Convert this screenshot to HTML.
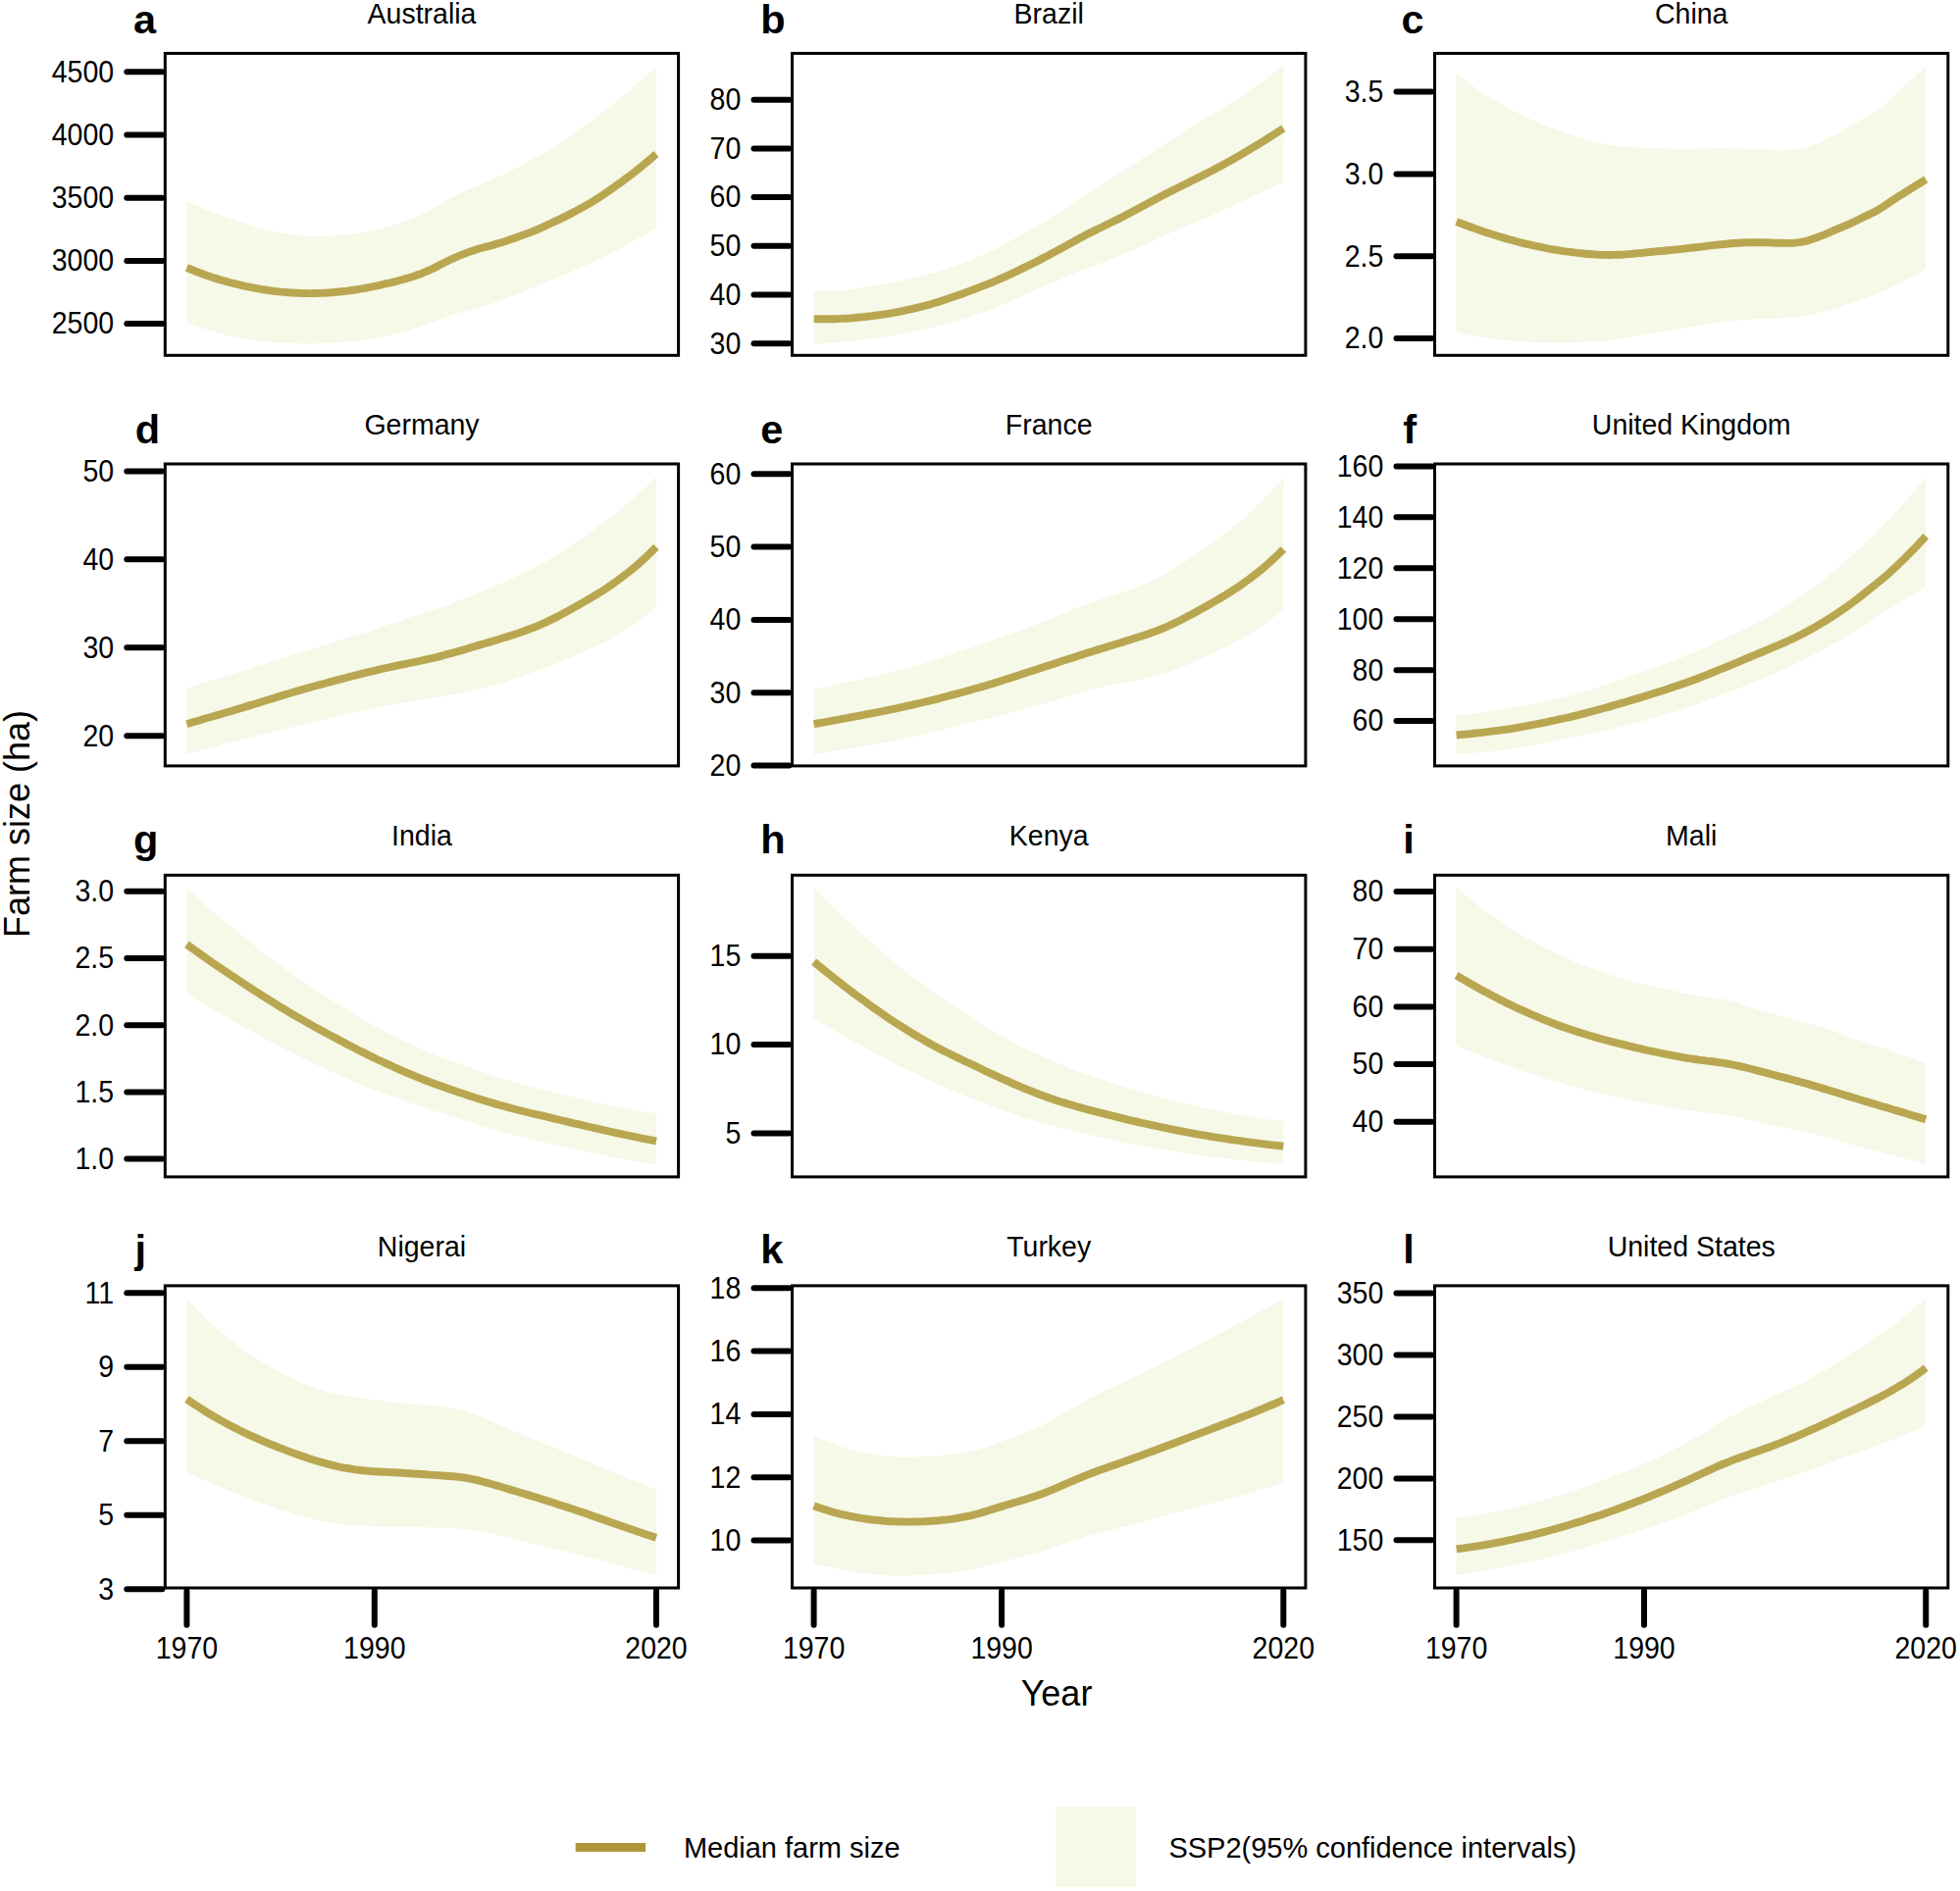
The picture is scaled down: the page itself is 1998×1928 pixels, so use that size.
<!DOCTYPE html>
<html lang="en"><head><meta charset="utf-8"><title>Farm size by country</title>
<style>html,body{margin:0;padding:0;background:#fff}svg{display:block}text{font-family:"Liberation Sans", Arial, sans-serif;fill:#000}.lg{font-size:29px}.tk{font-size:28.5px}.tt{font-size:28.5px}.lt{font-size:41.5px;font-weight:bold}.ax{font-size:36px}</style></head><body>
<svg xmlns="http://www.w3.org/2000/svg" width="1998" height="1928" viewBox="0 0 1998 1928">
<rect width="1998" height="1928" fill="#fff"/>
<g id="panel-a">
<polygon fill="#f6f8e8" points="190.4,205.3 194.4,207.1 198.4,208.9 202.4,210.6 206.4,212.3 210.3,214 214.3,215.6 218.3,217.1 222.3,218.6 226.3,220.1 230.3,221.5 234.3,222.8 238.3,224.1 242.2,225.4 246.2,226.7 250.2,228 254.2,229.3 258.2,230.6 262.2,231.8 266.2,232.9 270.2,234 274.2,234.9 278.1,235.8 282.1,236.7 286.1,237.4 290.1,238.1 294.1,238.8 298.1,239.3 302.1,239.8 306.1,240.2 310.1,240.5 314,240.7 318,240.8 322,240.8 326,240.8 330,240.7 334,240.6 338,240.5 342,240.3 345.9,240 349.9,239.7 353.9,239.3 357.9,238.9 361.9,238.4 365.9,237.9 369.9,237.3 373.9,236.6 377.9,235.8 381.8,234.9 385.8,234 389.8,232.9 393.8,231.9 397.8,230.7 401.8,229.5 405.8,228.3 409.8,226.9 413.7,225.4 417.7,223.9 421.7,222.3 425.7,220.5 429.7,218.7 433.7,216.8 437.7,214.7 441.7,212.6 445.7,210.3 449.6,208 453.6,205.6 457.6,203.3 461.6,201 465.6,198.9 469.6,196.9 473.6,195 477.6,193.3 481.5,191.6 485.5,189.9 489.5,188.2 493.5,186.5 497.5,184.7 501.5,183 505.5,181.2 509.5,179.5 513.5,177.6 517.4,175.8 521.4,173.8 525.4,171.9 529.4,169.8 533.4,167.8 537.4,165.6 541.4,163.5 545.4,161.3 549.4,159 553.3,156.6 557.3,154.3 561.3,151.8 565.3,149.3 569.3,146.8 573.3,144.2 577.3,141.6 581.3,138.9 585.2,136.1 589.2,133.3 593.2,130.5 597.2,127.6 601.2,124.6 605.2,121.7 609.2,118.7 613.2,115.6 617.2,112.6 621.1,109.5 625.1,106.3 629.1,103.1 633.1,99.8 637.1,96.4 641.1,93 645.1,89.6 649.1,86.1 653,82.5 657,78.8 661,75.1 665,71.4 669,67.6 669,232.2 665,234.6 661,237 657,239.4 653,241.7 649.1,243.9 645.1,246.2 641.1,248.4 637.1,250.5 633.1,252.6 629.1,254.7 625.1,256.8 621.1,258.9 617.2,260.9 613.2,262.9 609.2,264.8 605.2,266.7 601.2,268.6 597.2,270.4 593.2,272.1 589.2,273.9 585.2,275.6 581.3,277.4 577.3,279.1 573.3,280.8 569.3,282.5 565.3,284.2 561.3,285.9 557.3,287.6 553.3,289.3 549.4,290.9 545.4,292.6 541.4,294.2 537.4,295.8 533.4,297.4 529.4,299 525.4,300.6 521.4,302.1 517.4,303.7 513.5,305.2 509.5,306.6 505.5,308 501.5,309.3 497.5,310.7 493.5,312 489.5,313.3 485.5,314.5 481.5,315.5 477.6,316.5 473.6,317.4 469.6,318.5 465.6,319.6 461.6,320.9 457.6,322.3 453.6,323.8 449.6,325.2 445.7,326.7 441.7,328.2 437.7,329.6 433.7,331 429.7,332.4 425.7,333.8 421.7,335.1 417.7,336.4 413.7,337.6 409.8,338.8 405.8,339.9 401.8,340.8 397.8,341.8 393.8,342.6 389.8,343.4 385.8,344.2 381.8,344.9 377.9,345.5 373.9,346.1 369.9,346.6 365.9,347.1 361.9,347.6 357.9,348 353.9,348.4 349.9,348.8 345.9,349.1 342,349.4 338,349.6 334,349.8 330,350 326,350.1 322,350.1 318,350.2 314,350.2 310.1,350.2 306.1,350.1 302.1,350.1 298.1,350 294.1,349.9 290.1,349.7 286.1,349.5 282.1,349.3 278.1,349 274.2,348.6 270.2,348.2 266.2,347.8 262.2,347.4 258.2,346.8 254.2,346.3 250.2,345.7 246.2,345 242.2,344.2 238.3,343.3 234.3,342.4 230.3,341.4 226.3,340.3 222.3,339.2 218.3,338.1 214.3,336.9 210.3,335.7 206.4,334.4 202.4,333.1 198.4,331.7 194.4,330.2 190.4,328.7"/>
<polyline fill="none" stroke="#b9a650" stroke-width="7.9" stroke-linejoin="round" points="190.4,272.8 194.4,274.5 198.4,276.2 202.4,277.7 206.4,279.2 210.3,280.7 214.3,282.1 218.3,283.4 222.3,284.6 226.3,285.8 230.3,286.9 234.3,288 238.3,289 242.2,289.9 246.2,290.9 250.2,291.8 254.2,292.6 258.2,293.4 262.2,294.2 266.2,294.9 270.2,295.5 274.2,296.1 278.1,296.7 282.1,297.1 286.1,297.6 290.1,297.9 294.1,298.3 298.1,298.5 302.1,298.7 306.1,298.9 310.1,299 314,299.1 318,299.1 322,299 326,298.9 330,298.7 334,298.5 338,298.2 342,297.8 345.9,297.5 349.9,297 353.9,296.6 357.9,296 361.9,295.5 365.9,294.8 369.9,294.2 373.9,293.5 377.9,292.7 381.8,291.9 385.8,291.1 389.8,290.2 393.8,289.2 397.8,288.3 401.8,287.3 405.8,286.3 409.8,285.2 413.7,284.1 417.7,283 421.7,281.7 425.7,280.3 429.7,278.9 433.7,277.2 437.7,275.5 441.7,273.6 445.7,271.6 449.6,269.5 453.6,267.5 457.6,265.5 461.6,263.6 465.6,261.8 469.6,260.2 473.6,258.6 477.6,257.1 481.5,255.7 485.5,254.4 489.5,253.3 493.5,252.2 497.5,251.2 501.5,250.1 505.5,248.9 509.5,247.7 513.5,246.5 517.4,245.2 521.4,243.8 525.4,242.4 529.4,241 533.4,239.6 537.4,238.1 541.4,236.6 545.4,235 549.4,233.3 553.3,231.5 557.3,229.7 561.3,227.8 565.3,225.9 569.3,224.1 573.3,222.1 577.3,220.1 581.3,218.1 585.2,216.1 589.2,213.9 593.2,211.8 597.2,209.6 601.2,207.3 605.2,204.9 609.2,202.4 613.2,199.7 617.2,197 621.1,194.2 625.1,191.4 629.1,188.6 633.1,185.7 637.1,182.8 641.1,179.8 645.1,176.8 649.1,173.7 653,170.5 657,167.2 661,163.9 665,160.5 669,157.1"/>
<rect x="168.3" y="54.4" width="523.3" height="307.9" fill="none" stroke="#000" stroke-width="3.0"/>
<line x1="129.3" y1="73.3" x2="165.3" y2="73.3" stroke="#000" stroke-width="6.0" stroke-linecap="round"/>
<text class="tk" text-anchor="end" transform="translate(116.1 83.6) scale(1 1.08)">4500</text>
<line x1="129.3" y1="137.5" x2="165.3" y2="137.5" stroke="#000" stroke-width="6.0" stroke-linecap="round"/>
<text class="tk" text-anchor="end" transform="translate(116.1 147.8) scale(1 1.08)">4000</text>
<line x1="129.3" y1="201.7" x2="165.3" y2="201.7" stroke="#000" stroke-width="6.0" stroke-linecap="round"/>
<text class="tk" text-anchor="end" transform="translate(116.1 212) scale(1 1.08)">3500</text>
<line x1="129.3" y1="265.9" x2="165.3" y2="265.9" stroke="#000" stroke-width="6.0" stroke-linecap="round"/>
<text class="tk" text-anchor="end" transform="translate(116.1 276.2) scale(1 1.08)">3000</text>
<line x1="129.3" y1="330.1" x2="165.3" y2="330.1" stroke="#000" stroke-width="6.0" stroke-linecap="round"/>
<text class="tk" text-anchor="end" transform="translate(116.1 340.4) scale(1 1.08)">2500</text>
<text class="tt" text-anchor="middle" transform="translate(430 24) scale(1 1.05)">Australia</text>
<text class="lt" transform="translate(136 33.5)">a</text>
</g>
<g id="panel-b">
<polygon fill="#f6f8e8" points="829.6,297.1 833.6,297.1 837.6,297.1 841.6,297.1 845.6,296.9 849.5,296.7 853.5,296.4 857.5,296.1 861.5,295.7 865.5,295.2 869.5,294.7 873.5,294.1 877.5,293.5 881.5,292.9 885.4,292.2 889.4,291.6 893.4,290.9 897.4,290.2 901.4,289.5 905.4,288.8 909.4,288 913.4,287.2 917.4,286.4 921.4,285.6 925.3,284.7 929.3,283.8 933.3,282.9 937.3,282 941.3,281 945.3,280.1 949.3,279 953.3,277.9 957.3,276.7 961.2,275.4 965.2,274.1 969.2,272.7 973.2,271.3 977.2,269.9 981.2,268.4 985.2,266.9 989.2,265.4 993.2,263.8 997.1,262.1 1001.1,260.4 1005.1,258.7 1009.1,256.9 1013.1,255 1017.1,252.9 1021.1,250.8 1025.1,248.5 1029.1,246.3 1033,244.1 1037,241.8 1041,239.6 1045,237.3 1049,235 1053,232.7 1057,230.4 1061,228 1065,225.7 1069,223.3 1072.9,221 1076.9,218.5 1080.9,216 1084.9,213.4 1088.9,210.8 1092.9,208.2 1096.9,205.5 1100.9,202.8 1104.9,200.2 1108.8,197.6 1112.8,195 1116.8,192.4 1120.8,189.9 1124.8,187.4 1128.8,184.8 1132.8,182.3 1136.8,179.7 1140.8,177.2 1144.7,174.6 1148.7,172 1152.7,169.4 1156.7,166.8 1160.7,164.2 1164.7,161.6 1168.7,159 1172.7,156.4 1176.7,153.8 1180.6,151.2 1184.6,148.6 1188.6,145.9 1192.6,143.4 1196.6,140.8 1200.6,138.3 1204.6,135.8 1208.6,133.4 1212.6,130.9 1216.5,128.5 1220.5,126 1224.5,123.6 1228.5,121.2 1232.5,118.7 1236.5,116.3 1240.5,113.9 1244.5,111.5 1248.5,109 1252.5,106.6 1256.4,104.1 1260.4,101.5 1264.4,98.9 1268.4,96.2 1272.4,93.4 1276.4,90.7 1280.4,87.9 1284.4,85 1288.4,82.1 1292.3,79.2 1296.3,76.2 1300.3,73.1 1304.3,69.9 1308.3,66.7 1308.3,185.9 1304.3,187.7 1300.3,189.5 1296.3,191.3 1292.3,193.1 1288.4,194.9 1284.4,196.7 1280.4,198.6 1276.4,200.5 1272.4,202.3 1268.4,204.2 1264.4,206.1 1260.4,208 1256.4,209.8 1252.5,211.6 1248.5,213.4 1244.5,215.2 1240.5,216.9 1236.5,218.7 1232.5,220.4 1228.5,222.1 1224.5,223.9 1220.5,225.6 1216.5,227.3 1212.6,229 1208.6,230.8 1204.6,232.5 1200.6,234.2 1196.6,236 1192.6,237.7 1188.6,239.5 1184.6,241.3 1180.6,243 1176.7,244.9 1172.7,246.7 1168.7,248.5 1164.7,250.4 1160.7,252.2 1156.7,254 1152.7,255.8 1148.7,257.6 1144.7,259.3 1140.8,261.1 1136.8,262.7 1132.8,264.3 1128.8,265.9 1124.8,267.4 1120.8,268.8 1116.8,270.3 1112.8,271.7 1108.8,273.2 1104.9,274.8 1100.9,276.3 1096.9,278 1092.9,279.6 1088.9,281.3 1084.9,283 1080.9,284.7 1076.9,286.4 1072.9,288.1 1069,289.8 1065,291.6 1061,293.3 1057,295.1 1053,296.9 1049,298.7 1045,300.5 1041,302.3 1037,304.1 1033,305.9 1029.1,307.6 1025.1,309.4 1021.1,311.1 1017.1,312.8 1013.1,314.5 1009.1,316 1005.1,317.5 1001.1,318.9 997.1,320.3 993.2,321.6 989.2,322.9 985.2,324.1 981.2,325.3 977.2,326.5 973.2,327.6 969.2,328.7 965.2,329.8 961.2,330.9 957.3,332 953.3,333 949.3,334 945.3,335 941.3,335.9 937.3,336.8 933.3,337.6 929.3,338.4 925.3,339.2 921.4,340 917.4,340.8 913.4,341.5 909.4,342.2 905.4,342.9 901.4,343.5 897.4,344.1 893.4,344.7 889.4,345.3 885.4,345.8 881.5,346.3 877.5,346.8 873.5,347.3 869.5,347.7 865.5,348.1 861.5,348.5 857.5,348.8 853.5,349.1 849.5,349.4 845.6,349.7 841.6,349.9 837.6,350.1 833.6,350.3 829.6,350.4"/>
<polyline fill="none" stroke="#b9a650" stroke-width="7.9" stroke-linejoin="round" points="829.6,325.1 833.6,325.2 837.6,325.3 841.6,325.3 845.6,325.3 849.5,325.2 853.5,325.1 857.5,324.9 861.5,324.7 865.5,324.5 869.5,324.2 873.5,323.8 877.5,323.4 881.5,323 885.4,322.5 889.4,322.1 893.4,321.5 897.4,321 901.4,320.4 905.4,319.8 909.4,319.1 913.4,318.4 917.4,317.6 921.4,316.8 925.3,315.9 929.3,315.1 933.3,314.1 937.3,313.2 941.3,312.2 945.3,311.1 949.3,310 953.3,308.8 957.3,307.6 961.2,306.2 965.2,304.9 969.2,303.5 973.2,302.2 977.2,300.8 981.2,299.4 985.2,297.9 989.2,296.4 993.2,295 997.1,293.4 1001.1,291.9 1005.1,290.3 1009.1,288.8 1013.1,287.1 1017.1,285.4 1021.1,283.6 1025.1,281.8 1029.1,280 1033,278.1 1037,276.3 1041,274.4 1045,272.4 1049,270.5 1053,268.5 1057,266.4 1061,264.4 1065,262.3 1069,260.2 1072.9,258.1 1076.9,256 1080.9,253.8 1084.9,251.6 1088.9,249.4 1092.9,247.2 1096.9,245 1100.9,242.8 1104.9,240.7 1108.8,238.6 1112.8,236.6 1116.8,234.6 1120.8,232.7 1124.8,230.7 1128.8,228.8 1132.8,226.8 1136.8,224.9 1140.8,222.9 1144.7,220.9 1148.7,218.8 1152.7,216.7 1156.7,214.6 1160.7,212.5 1164.7,210.3 1168.7,208.1 1172.7,206 1176.7,203.8 1180.6,201.7 1184.6,199.6 1188.6,197.5 1192.6,195.5 1196.6,193.5 1200.6,191.5 1204.6,189.5 1208.6,187.5 1212.6,185.6 1216.5,183.6 1220.5,181.6 1224.5,179.6 1228.5,177.6 1232.5,175.5 1236.5,173.4 1240.5,171.3 1244.5,169.2 1248.5,167.1 1252.5,164.9 1256.4,162.7 1260.4,160.4 1264.4,158.1 1268.4,155.7 1272.4,153.3 1276.4,150.9 1280.4,148.5 1284.4,146.1 1288.4,143.6 1292.3,141.1 1296.3,138.6 1300.3,136 1304.3,133.5 1308.3,130.9"/>
<rect x="807.5" y="54.4" width="523.4" height="307.9" fill="none" stroke="#000" stroke-width="3.0"/>
<line x1="768.5" y1="101.8" x2="804.5" y2="101.8" stroke="#000" stroke-width="6.0" stroke-linecap="round"/>
<text class="tk" text-anchor="end" transform="translate(755.3 112) scale(1 1.08)">80</text>
<line x1="768.5" y1="151.4" x2="804.5" y2="151.4" stroke="#000" stroke-width="6.0" stroke-linecap="round"/>
<text class="tk" text-anchor="end" transform="translate(755.3 161.7) scale(1 1.08)">70</text>
<line x1="768.5" y1="201.1" x2="804.5" y2="201.1" stroke="#000" stroke-width="6.0" stroke-linecap="round"/>
<text class="tk" text-anchor="end" transform="translate(755.3 211.4) scale(1 1.08)">60</text>
<line x1="768.5" y1="250.8" x2="804.5" y2="250.8" stroke="#000" stroke-width="6.0" stroke-linecap="round"/>
<text class="tk" text-anchor="end" transform="translate(755.3 261.1) scale(1 1.08)">50</text>
<line x1="768.5" y1="300.5" x2="804.5" y2="300.5" stroke="#000" stroke-width="6.0" stroke-linecap="round"/>
<text class="tk" text-anchor="end" transform="translate(755.3 310.8) scale(1 1.08)">40</text>
<line x1="768.5" y1="350.2" x2="804.5" y2="350.2" stroke="#000" stroke-width="6.0" stroke-linecap="round"/>
<text class="tk" text-anchor="end" transform="translate(755.3 360.5) scale(1 1.08)">30</text>
<text class="tt" text-anchor="middle" transform="translate(1069.2 24) scale(1 1.05)">Brazil</text>
<text class="lt" transform="translate(775.2 33.5)">b</text>
</g>
<g id="panel-c">
<polygon fill="#f6f8e8" points="1484.6,75.3 1488.6,78.4 1492.6,81.4 1496.6,84.4 1500.6,87.2 1504.5,90 1508.5,92.7 1512.5,95.4 1516.5,97.9 1520.5,100.4 1524.5,102.8 1528.5,105.2 1532.5,107.4 1536.4,109.6 1540.4,111.8 1544.4,113.9 1548.4,115.9 1552.4,117.9 1556.4,119.8 1560.4,121.6 1564.4,123.4 1568.4,125.2 1572.3,126.8 1576.3,128.5 1580.3,130.1 1584.3,131.6 1588.3,133.1 1592.3,134.6 1596.3,136 1600.3,137.3 1604.2,138.6 1608.2,139.9 1612.2,141.1 1616.2,142.2 1620.2,143.3 1624.2,144.3 1628.2,145.3 1632.2,146.1 1636.2,146.9 1640.1,147.7 1644.1,148.3 1648.1,148.8 1652.1,149.3 1656.1,149.7 1660.1,150 1664.1,150.2 1668.1,150.4 1672.1,150.6 1676,150.8 1680,150.9 1684,151.1 1688,151.2 1692,151.4 1696,151.5 1700,151.6 1704,151.7 1707.9,151.8 1711.9,151.8 1715.9,151.9 1719.9,151.8 1723.9,151.8 1727.9,151.7 1731.9,151.7 1735.9,151.6 1739.9,151.5 1743.8,151.4 1747.8,151.4 1751.8,151.3 1755.8,151.3 1759.8,151.3 1763.8,151.4 1767.8,151.5 1771.8,151.6 1775.7,151.7 1779.7,151.9 1783.7,152 1787.7,152.2 1791.7,152.4 1795.7,152.6 1799.7,152.8 1803.7,153 1807.7,153.1 1811.6,153.2 1815.6,153.3 1819.6,153.2 1823.6,153.1 1827.6,152.8 1831.6,152.3 1835.6,151.6 1839.6,150.6 1843.5,149.4 1847.5,148 1851.5,146.4 1855.5,144.6 1859.5,142.8 1863.5,140.8 1867.5,138.7 1871.5,136.6 1875.5,134.5 1879.4,132.3 1883.4,130.1 1887.4,127.9 1891.4,125.7 1895.4,123.5 1899.4,121.3 1903.4,119.2 1907.4,117.1 1911.4,114.8 1915.3,112 1919.3,108.6 1923.3,104.9 1927.3,101 1931.3,97.2 1935.3,93.4 1939.3,89.6 1943.3,85.9 1947.2,82.2 1951.2,78.5 1955.2,74.7 1959.2,70.9 1963.2,67 1963.2,274.6 1959.2,276.9 1955.2,279 1951.2,281.1 1947.2,283.1 1943.3,285 1939.3,287 1935.3,289 1931.3,291 1927.3,293 1923.3,295.1 1919.3,297.1 1915.3,299 1911.4,300.6 1907.4,302 1903.4,303.3 1899.4,304.7 1895.4,306.1 1891.4,307.5 1887.4,309 1883.4,310.4 1879.4,311.9 1875.5,313.2 1871.5,314.4 1867.5,315.5 1863.5,316.5 1859.5,317.5 1855.5,318.4 1851.5,319.3 1847.5,320.3 1843.5,321.2 1839.6,322 1835.6,322.7 1831.6,323.3 1827.6,323.8 1823.6,324.1 1819.6,324.3 1815.6,324.5 1811.6,324.7 1807.7,324.8 1803.7,324.9 1799.7,325 1795.7,325.1 1791.7,325.2 1787.7,325.3 1783.7,325.5 1779.7,325.8 1775.7,326.1 1771.8,326.4 1767.8,326.8 1763.8,327.2 1759.8,327.7 1755.8,328.3 1751.8,328.8 1747.8,329.5 1743.8,330.1 1739.9,330.8 1735.9,331.5 1731.9,332.2 1727.9,332.9 1723.9,333.6 1719.9,334.3 1715.9,334.9 1711.9,335.6 1707.9,336.1 1704,336.7 1700,337.2 1696,337.8 1692,338.3 1688,338.9 1684,339.5 1680,340.1 1676,340.8 1672.1,341.5 1668.1,342.2 1664.1,343 1660.1,343.7 1656.1,344.4 1652.1,345.1 1648.1,345.8 1644.1,346.4 1640.1,346.9 1636.2,347.3 1632.2,347.7 1628.2,348 1624.2,348.3 1620.2,348.6 1616.2,348.8 1612.2,349 1608.2,349.1 1604.2,349.3 1600.3,349.4 1596.3,349.4 1592.3,349.5 1588.3,349.5 1584.3,349.5 1580.3,349.4 1576.3,349.4 1572.3,349.3 1568.4,349.1 1564.4,349 1560.4,348.8 1556.4,348.6 1552.4,348.4 1548.4,348.1 1544.4,347.8 1540.4,347.5 1536.4,347.1 1532.5,346.7 1528.5,346.2 1524.5,345.7 1520.5,345.2 1516.5,344.6 1512.5,344 1508.5,343.3 1504.5,342.6 1500.6,341.9 1496.6,341.1 1492.6,340.2 1488.6,339.3 1484.6,338.4"/>
<polyline fill="none" stroke="#b9a650" stroke-width="7.9" stroke-linejoin="round" points="1484.6,226 1488.6,227.5 1492.6,229 1496.6,230.5 1500.6,232 1504.5,233.4 1508.5,234.8 1512.5,236.2 1516.5,237.5 1520.5,238.8 1524.5,240 1528.5,241.2 1532.5,242.4 1536.4,243.6 1540.4,244.7 1544.4,245.7 1548.4,246.8 1552.4,247.8 1556.4,248.8 1560.4,249.7 1564.4,250.6 1568.4,251.4 1572.3,252.2 1576.3,253 1580.3,253.8 1584.3,254.5 1588.3,255.1 1592.3,255.8 1596.3,256.4 1600.3,256.9 1604.2,257.4 1608.2,257.9 1612.2,258.3 1616.2,258.7 1620.2,259 1624.2,259.3 1628.2,259.6 1632.2,259.8 1636.2,259.9 1640.1,260 1644.1,259.9 1648.1,259.8 1652.1,259.7 1656.1,259.4 1660.1,259.1 1664.1,258.8 1668.1,258.4 1672.1,258 1676,257.6 1680,257.2 1684,256.8 1688,256.4 1692,256 1696,255.7 1700,255.3 1704,254.9 1707.9,254.5 1711.9,254.1 1715.9,253.6 1719.9,253.2 1723.9,252.7 1727.9,252.3 1731.9,251.8 1735.9,251.3 1739.9,250.8 1743.8,250.4 1747.8,249.9 1751.8,249.5 1755.8,249.1 1759.8,248.7 1763.8,248.3 1767.8,248 1771.8,247.7 1775.7,247.5 1779.7,247.3 1783.7,247.2 1787.7,247.2 1791.7,247.2 1795.7,247.2 1799.7,247.3 1803.7,247.4 1807.7,247.6 1811.6,247.7 1815.6,247.8 1819.6,247.9 1823.6,247.9 1827.6,247.7 1831.6,247.4 1835.6,246.9 1839.6,246.1 1843.5,245.1 1847.5,243.8 1851.5,242.4 1855.5,240.9 1859.5,239.3 1863.5,237.6 1867.5,235.9 1871.5,234.2 1875.5,232.5 1879.4,230.8 1883.4,229.2 1887.4,227.4 1891.4,225.5 1895.4,223.5 1899.4,221.5 1903.4,219.6 1907.4,217.7 1911.4,215.7 1915.3,213.5 1919.3,211 1923.3,208.4 1927.3,205.6 1931.3,202.9 1935.3,200.3 1939.3,197.8 1943.3,195.3 1947.2,192.8 1951.2,190.4 1955.2,187.9 1959.2,185.5 1963.2,182.9"/>
<rect x="1462.5" y="54.4" width="523.3" height="307.9" fill="none" stroke="#000" stroke-width="3.0"/>
<line x1="1423.5" y1="93.5" x2="1459.5" y2="93.5" stroke="#000" stroke-width="6.0" stroke-linecap="round"/>
<text class="tk" text-anchor="end" transform="translate(1410.3 103.8) scale(1 1.08)">3.5</text>
<line x1="1423.5" y1="177.4" x2="1459.5" y2="177.4" stroke="#000" stroke-width="6.0" stroke-linecap="round"/>
<text class="tk" text-anchor="end" transform="translate(1410.3 187.7) scale(1 1.08)">3.0</text>
<line x1="1423.5" y1="261.3" x2="1459.5" y2="261.3" stroke="#000" stroke-width="6.0" stroke-linecap="round"/>
<text class="tk" text-anchor="end" transform="translate(1410.3 271.6) scale(1 1.08)">2.5</text>
<line x1="1423.5" y1="345.1" x2="1459.5" y2="345.1" stroke="#000" stroke-width="6.0" stroke-linecap="round"/>
<text class="tk" text-anchor="end" transform="translate(1410.3 355.4) scale(1 1.08)">2.0</text>
<text class="tt" text-anchor="middle" transform="translate(1724.2 24) scale(1 1.05)">China</text>
<text class="lt" transform="translate(1428.4 33.5)">c</text>
</g>
<g id="panel-d">
<polygon fill="#f6f8e8" points="190.4,701.8 194.4,700.6 198.4,699.3 202.4,698.1 206.4,696.8 210.3,695.5 214.3,694.3 218.3,693 222.3,691.8 226.3,690.5 230.3,689.2 234.3,688 238.3,686.7 242.2,685.4 246.2,684.2 250.2,682.9 254.2,681.7 258.2,680.4 262.2,679.1 266.2,677.9 270.2,676.6 274.2,675.4 278.1,674.1 282.1,672.9 286.1,671.6 290.1,670.4 294.1,669.1 298.1,667.8 302.1,666.6 306.1,665.4 310.1,664.1 314,662.9 318,661.6 322,660.4 326,659.1 330,657.9 334,656.7 338,655.4 342,654.2 345.9,653 349.9,651.8 353.9,650.5 357.9,649.3 361.9,648.1 365.9,646.9 369.9,645.7 373.9,644.4 377.9,643.1 381.8,641.7 385.8,640.3 389.8,638.9 393.8,637.6 397.8,636.2 401.8,634.9 405.8,633.5 409.8,632.2 413.7,630.8 417.7,629.5 421.7,628.1 425.7,626.8 429.7,625.5 433.7,624.2 437.7,623 441.7,621.8 445.7,620.5 449.6,619.3 453.6,617.9 457.6,616.5 461.6,615.1 465.6,613.6 469.6,612 473.6,610.5 477.6,608.8 481.5,607.2 485.5,605.5 489.5,603.8 493.5,602.1 497.5,600.3 501.5,598.6 505.5,596.9 509.5,595.2 513.5,593.4 517.4,591.7 521.4,590 525.4,588.3 529.4,586.5 533.4,584.6 537.4,582.7 541.4,580.7 545.4,578.7 549.4,576.5 553.3,574.3 557.3,571.9 561.3,569.5 565.3,567 569.3,564.5 573.3,561.9 577.3,559.3 581.3,556.6 585.2,553.9 589.2,551.2 593.2,548.4 597.2,545.7 601.2,542.9 605.2,540.1 609.2,537.2 613.2,534.3 617.2,531.3 621.1,528.3 625.1,525.2 629.1,522.1 633.1,518.8 637.1,515.5 641.1,512.2 645.1,508.8 649.1,505.3 653,501.7 657,498 661,494.2 665,490.3 669,486.4 669,619.1 665,622.3 661,625.5 657,628.6 653,631.5 649.1,634.4 645.1,637.2 641.1,639.8 637.1,642.3 633.1,644.8 629.1,647.3 625.1,649.8 621.1,652.1 617.2,654.3 613.2,656.3 609.2,658.2 605.2,660 601.2,661.8 597.2,663.6 593.2,665.4 589.2,667.1 585.2,668.8 581.3,670.5 577.3,672.2 573.3,673.8 569.3,675.5 565.3,677.1 561.3,678.6 557.3,680.2 553.3,681.7 549.4,683.2 545.4,684.7 541.4,686.2 537.4,687.6 533.4,689 529.4,690.4 525.4,691.8 521.4,693.1 517.4,694.4 513.5,695.7 509.5,696.9 505.5,698.1 501.5,699.2 497.5,700.3 493.5,701.4 489.5,702.3 485.5,703.2 481.5,704.1 477.6,704.9 473.6,705.7 469.6,706.4 465.6,707.2 461.6,707.9 457.6,708.7 453.6,709.4 449.6,710.1 445.7,710.8 441.7,711.5 437.7,712.2 433.7,712.9 429.7,713.5 425.7,714.2 421.7,714.8 417.7,715.5 413.7,716.2 409.8,716.8 405.8,717.5 401.8,718.2 397.8,718.9 393.8,719.7 389.8,720.4 385.8,721.2 381.8,721.9 377.9,722.7 373.9,723.5 369.9,724.4 365.9,725.3 361.9,726.2 357.9,727.1 353.9,728 349.9,728.9 345.9,729.9 342,730.8 338,731.7 334,732.7 330,733.6 326,734.6 322,735.6 318,736.5 314,737.5 310.1,738.5 306.1,739.4 302.1,740.4 298.1,741.3 294.1,742.3 290.1,743.2 286.1,744.2 282.1,745.2 278.1,746.1 274.2,747.1 270.2,748.1 266.2,749.1 262.2,750 258.2,751 254.2,752 250.2,753 246.2,754 242.2,755.1 238.3,756.1 234.3,757.2 230.3,758.2 226.3,759.3 222.3,760.4 218.3,761.4 214.3,762.5 210.3,763.5 206.4,764.6 202.4,765.6 198.4,766.6 194.4,767.7 190.4,768.7"/>
<polyline fill="none" stroke="#b9a650" stroke-width="7.9" stroke-linejoin="round" points="190.4,738.1 194.4,737 198.4,735.8 202.4,734.7 206.4,733.5 210.3,732.3 214.3,731.2 218.3,730 222.3,728.9 226.3,727.7 230.3,726.5 234.3,725.4 238.3,724.2 242.2,723 246.2,721.9 250.2,720.6 254.2,719.4 258.2,718.2 262.2,717 266.2,715.7 270.2,714.5 274.2,713.3 278.1,712.1 282.1,710.8 286.1,709.6 290.1,708.4 294.1,707.2 298.1,706 302.1,704.8 306.1,703.6 310.1,702.5 314,701.4 318,700.3 322,699.2 326,698.1 330,697.1 334,696 338,694.9 342,693.9 345.9,692.8 349.9,691.8 353.9,690.7 357.9,689.7 361.9,688.7 365.9,687.6 369.9,686.6 373.9,685.6 377.9,684.7 381.8,683.8 385.8,682.8 389.8,681.9 393.8,681 397.8,680.2 401.8,679.3 405.8,678.4 409.8,677.6 413.7,676.8 417.7,676 421.7,675.2 425.7,674.4 429.7,673.5 433.7,672.6 437.7,671.7 441.7,670.8 445.7,669.8 449.6,668.8 453.6,667.7 457.6,666.7 461.6,665.6 465.6,664.5 469.6,663.4 473.6,662.2 477.6,661 481.5,659.8 485.5,658.6 489.5,657.4 493.5,656.2 497.5,655.1 501.5,653.9 505.5,652.7 509.5,651.5 513.5,650.3 517.4,649.1 521.4,647.8 525.4,646.5 529.4,645.2 533.4,643.8 537.4,642.3 541.4,640.8 545.4,639.3 549.4,637.6 553.3,635.9 557.3,634.1 561.3,632.1 565.3,630.1 569.3,628.1 573.3,625.9 577.3,623.8 581.3,621.6 585.2,619.4 589.2,617.2 593.2,614.9 597.2,612.6 601.2,610.3 605.2,607.9 609.2,605.5 613.2,603 617.2,600.5 621.1,597.8 625.1,595 629.1,592.1 633.1,589.1 637.1,586.1 641.1,583 645.1,579.8 649.1,576.5 653,573 657,569.4 661,565.6 665,561.7 669,557.7"/>
<rect x="168.3" y="473" width="523.3" height="307.9" fill="none" stroke="#000" stroke-width="3.0"/>
<line x1="129.3" y1="480.4" x2="165.3" y2="480.4" stroke="#000" stroke-width="6.0" stroke-linecap="round"/>
<text class="tk" text-anchor="end" transform="translate(116.1 490.7) scale(1 1.08)">50</text>
<line x1="129.3" y1="570.3" x2="165.3" y2="570.3" stroke="#000" stroke-width="6.0" stroke-linecap="round"/>
<text class="tk" text-anchor="end" transform="translate(116.1 580.6) scale(1 1.08)">40</text>
<line x1="129.3" y1="660.3" x2="165.3" y2="660.3" stroke="#000" stroke-width="6.0" stroke-linecap="round"/>
<text class="tk" text-anchor="end" transform="translate(116.1 670.6) scale(1 1.08)">30</text>
<line x1="129.3" y1="750.2" x2="165.3" y2="750.2" stroke="#000" stroke-width="6.0" stroke-linecap="round"/>
<text class="tk" text-anchor="end" transform="translate(116.1 760.5) scale(1 1.08)">20</text>
<text class="tt" text-anchor="middle" transform="translate(430 442.6) scale(1 1.05)">Germany</text>
<text class="lt" transform="translate(137.8 452)">d</text>
</g>
<g id="panel-e">
<polygon fill="#f6f8e8" points="829.6,702.4 833.6,701.6 837.6,700.9 841.6,700.1 845.6,699.3 849.5,698.5 853.5,697.7 857.5,696.9 861.5,696 865.5,695.2 869.5,694.4 873.5,693.5 877.5,692.7 881.5,691.8 885.4,690.9 889.4,690 893.4,689 897.4,688.1 901.4,687.1 905.4,686.1 909.4,685.1 913.4,684.1 917.4,683.1 921.4,682 925.3,680.9 929.3,679.8 933.3,678.7 937.3,677.6 941.3,676.4 945.3,675.2 949.3,674 953.3,672.7 957.3,671.4 961.2,670.1 965.2,668.7 969.2,667.4 973.2,666 977.2,664.6 981.2,663.3 985.2,661.9 989.2,660.5 993.2,659.2 997.1,657.8 1001.1,656.4 1005.1,655 1009.1,653.7 1013.1,652.3 1017.1,650.9 1021.1,649.6 1025.1,648.2 1029.1,646.9 1033,645.5 1037,644 1041,642.6 1045,641.1 1049,639.6 1053,638.1 1057,636.5 1061,635 1065,633.4 1069,631.7 1072.9,630.1 1076.9,628.4 1080.9,626.8 1084.9,625.2 1088.9,623.5 1092.9,621.9 1096.9,620.3 1100.9,618.8 1104.9,617.3 1108.8,615.8 1112.8,614.3 1116.8,612.9 1120.8,611.5 1124.8,610.1 1128.8,608.8 1132.8,607.5 1136.8,606.3 1140.8,605.1 1144.7,603.8 1148.7,602.5 1152.7,601.2 1156.7,599.7 1160.7,598.1 1164.7,596.4 1168.7,594.6 1172.7,592.7 1176.7,590.8 1180.6,588.7 1184.6,586.6 1188.6,584.4 1192.6,582.1 1196.6,579.8 1200.6,577.4 1204.6,574.9 1208.6,572.4 1212.6,569.8 1216.5,567.2 1220.5,564.5 1224.5,561.8 1228.5,559.1 1232.5,556.3 1236.5,553.4 1240.5,550.5 1244.5,547.6 1248.5,544.6 1252.5,541.5 1256.4,538.3 1260.4,535 1264.4,531.5 1268.4,527.9 1272.4,524.2 1276.4,520.5 1280.4,516.7 1284.4,512.7 1288.4,508.7 1292.3,504.6 1296.3,500.3 1300.3,496 1304.3,491.5 1308.3,486.9 1308.3,621.9 1304.3,625.1 1300.3,628.1 1296.3,631.1 1292.3,633.9 1288.4,636.7 1284.4,639.4 1280.4,642 1276.4,644.5 1272.4,647 1268.4,649.4 1264.4,651.9 1260.4,654.2 1256.4,656.4 1252.5,658.4 1248.5,660.4 1244.5,662.3 1240.5,664.2 1236.5,666 1232.5,667.9 1228.5,669.7 1224.5,671.6 1220.5,673.3 1216.5,675.1 1212.6,676.9 1208.6,678.6 1204.6,680.3 1200.6,682 1196.6,683.5 1192.6,684.9 1188.6,686.2 1184.6,687.3 1180.6,688.4 1176.7,689.4 1172.7,690.4 1168.7,691.3 1164.7,692.2 1160.7,693.1 1156.7,693.9 1152.7,694.7 1148.7,695.5 1144.7,696.2 1140.8,697 1136.8,697.7 1132.8,698.5 1128.8,699.4 1124.8,700.3 1120.8,701.3 1116.8,702.3 1112.8,703.4 1108.8,704.4 1104.9,705.5 1100.9,706.6 1096.9,707.7 1092.9,708.8 1088.9,710 1084.9,711.1 1080.9,712.3 1076.9,713.4 1072.9,714.6 1069,715.8 1065,716.9 1061,718.1 1057,719.2 1053,720.3 1049,721.4 1045,722.5 1041,723.6 1037,724.7 1033,725.7 1029.1,726.8 1025.1,727.8 1021.1,728.9 1017.1,729.9 1013.1,730.9 1009.1,731.9 1005.1,732.9 1001.1,733.8 997.1,734.8 993.2,735.8 989.2,736.8 985.2,737.8 981.2,738.8 977.2,739.8 973.2,740.8 969.2,741.8 965.2,742.8 961.2,743.8 957.3,744.8 953.3,745.8 949.3,746.8 945.3,747.7 941.3,748.6 937.3,749.5 933.3,750.4 929.3,751.2 925.3,752.1 921.4,752.9 917.4,753.8 913.4,754.6 909.4,755.4 905.4,756.2 901.4,757 897.4,757.8 893.4,758.6 889.4,759.3 885.4,760.1 881.5,760.8 877.5,761.5 873.5,762.1 869.5,762.8 865.5,763.4 861.5,764.1 857.5,764.7 853.5,765.4 849.5,766 845.6,766.7 841.6,767.3 837.6,767.9 833.6,768.6 829.6,769.2"/>
<polyline fill="none" stroke="#b9a650" stroke-width="7.9" stroke-linejoin="round" points="829.6,738.2 833.6,737.5 837.6,736.8 841.6,736.1 845.6,735.4 849.5,734.7 853.5,734 857.5,733.2 861.5,732.5 865.5,731.7 869.5,731 873.5,730.2 877.5,729.5 881.5,728.7 885.4,727.9 889.4,727.1 893.4,726.3 897.4,725.6 901.4,724.8 905.4,723.9 909.4,723.1 913.4,722.3 917.4,721.4 921.4,720.6 925.3,719.7 929.3,718.8 933.3,717.9 937.3,717 941.3,716 945.3,715.1 949.3,714.1 953.3,713.1 957.3,712.1 961.2,711 965.2,710 969.2,708.9 973.2,707.8 977.2,706.8 981.2,705.7 985.2,704.6 989.2,703.5 993.2,702.3 997.1,701.2 1001.1,700.1 1005.1,699 1009.1,697.8 1013.1,696.6 1017.1,695.4 1021.1,694.1 1025.1,692.8 1029.1,691.5 1033,690.2 1037,688.9 1041,687.6 1045,686.3 1049,685 1053,683.7 1057,682.4 1061,681.1 1065,679.8 1069,678.5 1072.9,677.2 1076.9,675.9 1080.9,674.6 1084.9,673.3 1088.9,672 1092.9,670.7 1096.9,669.4 1100.9,668.1 1104.9,666.9 1108.8,665.6 1112.8,664.4 1116.8,663.1 1120.8,661.9 1124.8,660.7 1128.8,659.4 1132.8,658.2 1136.8,657 1140.8,655.8 1144.7,654.6 1148.7,653.3 1152.7,652.1 1156.7,650.8 1160.7,649.5 1164.7,648.2 1168.7,646.9 1172.7,645.5 1176.7,644.1 1180.6,642.6 1184.6,641 1188.6,639.3 1192.6,637.5 1196.6,635.6 1200.6,633.7 1204.6,631.7 1208.6,629.6 1212.6,627.5 1216.5,625.4 1220.5,623.2 1224.5,620.9 1228.5,618.7 1232.5,616.5 1236.5,614.2 1240.5,611.9 1244.5,609.5 1248.5,607.2 1252.5,604.7 1256.4,602.2 1260.4,599.6 1264.4,596.9 1268.4,594 1272.4,591.1 1276.4,588.2 1280.4,585.1 1284.4,581.9 1288.4,578.6 1292.3,575.1 1296.3,571.5 1300.3,567.8 1304.3,564 1308.3,559.9"/>
<rect x="807.5" y="473" width="523.4" height="307.9" fill="none" stroke="#000" stroke-width="3.0"/>
<line x1="768.5" y1="483.2" x2="804.5" y2="483.2" stroke="#000" stroke-width="6.0" stroke-linecap="round"/>
<text class="tk" text-anchor="end" transform="translate(755.3 493.5) scale(1 1.08)">60</text>
<line x1="768.5" y1="557.5" x2="804.5" y2="557.5" stroke="#000" stroke-width="6.0" stroke-linecap="round"/>
<text class="tk" text-anchor="end" transform="translate(755.3 567.8) scale(1 1.08)">50</text>
<line x1="768.5" y1="631.9" x2="804.5" y2="631.9" stroke="#000" stroke-width="6.0" stroke-linecap="round"/>
<text class="tk" text-anchor="end" transform="translate(755.3 642.2) scale(1 1.08)">40</text>
<line x1="768.5" y1="706.2" x2="804.5" y2="706.2" stroke="#000" stroke-width="6.0" stroke-linecap="round"/>
<text class="tk" text-anchor="end" transform="translate(755.3 716.5) scale(1 1.08)">30</text>
<line x1="768.5" y1="780.5" x2="804.5" y2="780.5" stroke="#000" stroke-width="6.0" stroke-linecap="round"/>
<text class="tk" text-anchor="end" transform="translate(755.3 790.8) scale(1 1.08)">20</text>
<text class="tt" text-anchor="middle" transform="translate(1069.2 442.6) scale(1 1.05)">France</text>
<text class="lt" transform="translate(775.2 452)">e</text>
</g>
<g id="panel-f">
<polygon fill="#f6f8e8" points="1484.6,729.4 1488.6,729.1 1492.6,728.7 1496.6,728.3 1500.6,727.9 1504.5,727.4 1508.5,726.9 1512.5,726.4 1516.5,725.8 1520.5,725.2 1524.5,724.6 1528.5,724 1532.5,723.3 1536.4,722.6 1540.4,721.9 1544.4,721.2 1548.4,720.5 1552.4,719.7 1556.4,719 1560.4,718.2 1564.4,717.5 1568.4,716.6 1572.3,715.8 1576.3,715 1580.3,714.1 1584.3,713.2 1588.3,712.3 1592.3,711.4 1596.3,710.4 1600.3,709.5 1604.2,708.4 1608.2,707.3 1612.2,706.1 1616.2,704.8 1620.2,703.5 1624.2,702.2 1628.2,700.9 1632.2,699.6 1636.2,698.3 1640.1,696.9 1644.1,695.6 1648.1,694.2 1652.1,692.8 1656.1,691.4 1660.1,690 1664.1,688.6 1668.1,687.2 1672.1,685.8 1676,684.5 1680,683.1 1684,681.7 1688,680.3 1692,678.9 1696,677.4 1700,675.9 1704,674.4 1707.9,672.9 1711.9,671.3 1715.9,669.7 1719.9,668.1 1723.9,666.4 1727.9,664.7 1731.9,662.9 1735.9,661.1 1739.9,659.2 1743.8,657.3 1747.8,655.4 1751.8,653.5 1755.8,651.7 1759.8,649.8 1763.8,648 1767.8,646.2 1771.8,644.4 1775.7,642.5 1779.7,640.7 1783.7,638.8 1787.7,636.9 1791.7,635 1795.7,633 1799.7,630.9 1803.7,628.7 1807.7,626.4 1811.6,624 1815.6,621.5 1819.6,619 1823.6,616.4 1827.6,613.7 1831.6,610.9 1835.6,608.1 1839.6,605.2 1843.5,602.4 1847.5,599.5 1851.5,596.5 1855.5,593.5 1859.5,590.4 1863.5,587.3 1867.5,584 1871.5,580.7 1875.5,577.3 1879.4,573.8 1883.4,570.3 1887.4,566.8 1891.4,563.2 1895.4,559.6 1899.4,555.9 1903.4,552.2 1907.4,548.4 1911.4,544.4 1915.3,540.4 1919.3,536.3 1923.3,532.1 1927.3,527.9 1931.3,523.6 1935.3,519.3 1939.3,514.9 1943.3,510.4 1947.2,505.8 1951.2,501.1 1955.2,496.3 1959.2,491.4 1963.2,486.4 1963.2,598 1959.2,600.4 1955.2,602.9 1951.2,605.3 1947.2,607.7 1943.3,610.1 1939.3,612.5 1935.3,615 1931.3,617.4 1927.3,619.9 1923.3,622.5 1919.3,625.1 1915.3,627.7 1911.4,630.3 1907.4,632.9 1903.4,635.4 1899.4,638 1895.4,640.5 1891.4,643 1887.4,645.4 1883.4,647.8 1879.4,650.2 1875.5,652.6 1871.5,654.9 1867.5,657.1 1863.5,659.4 1859.5,661.6 1855.5,663.8 1851.5,666 1847.5,668.1 1843.5,670.2 1839.6,672.3 1835.6,674.2 1831.6,676.1 1827.6,678 1823.6,679.8 1819.6,681.7 1815.6,683.5 1811.6,685.3 1807.7,687.1 1803.7,688.8 1799.7,690.6 1795.7,692.3 1791.7,693.9 1787.7,695.5 1783.7,697.1 1779.7,698.7 1775.7,700.3 1771.8,701.9 1767.8,703.4 1763.8,705 1759.8,706.5 1755.8,708.1 1751.8,709.6 1747.8,711.2 1743.8,712.7 1739.9,714.3 1735.9,715.9 1731.9,717.4 1727.9,718.9 1723.9,720.3 1719.9,721.6 1715.9,722.9 1711.9,724.1 1707.9,725.4 1704,726.6 1700,727.8 1696,729 1692,730.2 1688,731.3 1684,732.4 1680,733.5 1676,734.6 1672.1,735.7 1668.1,736.8 1664.1,737.8 1660.1,738.8 1656.1,739.8 1652.1,740.8 1648.1,741.8 1644.1,742.7 1640.1,743.7 1636.2,744.6 1632.2,745.5 1628.2,746.4 1624.2,747.3 1620.2,748.1 1616.2,749 1612.2,749.9 1608.2,750.7 1604.2,751.5 1600.3,752.3 1596.3,753.1 1592.3,753.9 1588.3,754.7 1584.3,755.5 1580.3,756.3 1576.3,757.1 1572.3,757.9 1568.4,758.6 1564.4,759.4 1560.4,760.1 1556.4,760.9 1552.4,761.6 1548.4,762.3 1544.4,762.9 1540.4,763.6 1536.4,764.1 1532.5,764.7 1528.5,765.1 1524.5,765.6 1520.5,766 1516.5,766.4 1512.5,766.8 1508.5,767.1 1504.5,767.4 1500.6,767.7 1496.6,768 1492.6,768.2 1488.6,768.4 1484.6,768.5"/>
<polyline fill="none" stroke="#b9a650" stroke-width="7.9" stroke-linejoin="round" points="1484.6,749.5 1488.6,749.1 1492.6,748.8 1496.6,748.4 1500.6,748 1504.5,747.5 1508.5,747.1 1512.5,746.7 1516.5,746.2 1520.5,745.7 1524.5,745.2 1528.5,744.7 1532.5,744.2 1536.4,743.6 1540.4,743 1544.4,742.3 1548.4,741.6 1552.4,740.9 1556.4,740.2 1560.4,739.4 1564.4,738.7 1568.4,737.9 1572.3,737.1 1576.3,736.3 1580.3,735.4 1584.3,734.6 1588.3,733.7 1592.3,732.9 1596.3,732 1600.3,731.1 1604.2,730.1 1608.2,729.2 1612.2,728.1 1616.2,727.1 1620.2,726 1624.2,725 1628.2,723.9 1632.2,722.8 1636.2,721.7 1640.1,720.6 1644.1,719.4 1648.1,718.3 1652.1,717.1 1656.1,716 1660.1,714.8 1664.1,713.6 1668.1,712.4 1672.1,711.2 1676,710 1680,708.8 1684,707.5 1688,706.3 1692,705 1696,703.7 1700,702.5 1704,701.1 1707.9,699.8 1711.9,698.5 1715.9,697.1 1719.9,695.7 1723.9,694.3 1727.9,692.8 1731.9,691.3 1735.9,689.7 1739.9,688.1 1743.8,686.5 1747.8,684.9 1751.8,683.2 1755.8,681.6 1759.8,680 1763.8,678.3 1767.8,676.7 1771.8,675.1 1775.7,673.4 1779.7,671.7 1783.7,670 1787.7,668.4 1791.7,666.7 1795.7,665 1799.7,663.3 1803.7,661.6 1807.7,659.9 1811.6,658.3 1815.6,656.6 1819.6,654.8 1823.6,653 1827.6,651.2 1831.6,649.2 1835.6,647.3 1839.6,645.2 1843.5,643.1 1847.5,640.9 1851.5,638.6 1855.5,636.2 1859.5,633.8 1863.5,631.3 1867.5,628.8 1871.5,626.2 1875.5,623.5 1879.4,620.8 1883.4,618 1887.4,615.1 1891.4,612.1 1895.4,609.1 1899.4,605.9 1903.4,602.7 1907.4,599.5 1911.4,596.3 1915.3,593 1919.3,589.8 1923.3,586.4 1927.3,582.9 1931.3,579.2 1935.3,575.4 1939.3,571.5 1943.3,567.6 1947.2,563.6 1951.2,559.6 1955.2,555.4 1959.2,551.1 1963.2,546.7"/>
<rect x="1462.5" y="473" width="523.3" height="307.9" fill="none" stroke="#000" stroke-width="3.0"/>
<line x1="1423.5" y1="475.4" x2="1459.5" y2="475.4" stroke="#000" stroke-width="6.0" stroke-linecap="round"/>
<text class="tk" text-anchor="end" transform="translate(1410.3 485.7) scale(1 1.08)">160</text>
<line x1="1423.5" y1="527.3" x2="1459.5" y2="527.3" stroke="#000" stroke-width="6.0" stroke-linecap="round"/>
<text class="tk" text-anchor="end" transform="translate(1410.3 537.6) scale(1 1.08)">140</text>
<line x1="1423.5" y1="579.3" x2="1459.5" y2="579.3" stroke="#000" stroke-width="6.0" stroke-linecap="round"/>
<text class="tk" text-anchor="end" transform="translate(1410.3 589.6) scale(1 1.08)">120</text>
<line x1="1423.5" y1="631.2" x2="1459.5" y2="631.2" stroke="#000" stroke-width="6.0" stroke-linecap="round"/>
<text class="tk" text-anchor="end" transform="translate(1410.3 641.5) scale(1 1.08)">100</text>
<line x1="1423.5" y1="683.2" x2="1459.5" y2="683.2" stroke="#000" stroke-width="6.0" stroke-linecap="round"/>
<text class="tk" text-anchor="end" transform="translate(1410.3 693.5) scale(1 1.08)">80</text>
<line x1="1423.5" y1="735.1" x2="1459.5" y2="735.1" stroke="#000" stroke-width="6.0" stroke-linecap="round"/>
<text class="tk" text-anchor="end" transform="translate(1410.3 745.4) scale(1 1.08)">60</text>
<text class="tt" text-anchor="middle" transform="translate(1724.2 442.6) scale(1 1.05)">United Kingdom</text>
<text class="lt" transform="translate(1430.2 452)">f</text>
</g>
<g id="panel-g">
<polygon fill="#f6f8e8" points="190.4,904.9 194.4,908.8 198.4,912.7 202.4,916.4 206.4,920.1 210.3,923.7 214.3,927.2 218.3,930.7 222.3,934.1 226.3,937.5 230.3,940.8 234.3,944 238.3,947.2 242.2,950.4 246.2,953.6 250.2,956.7 254.2,959.9 258.2,963.1 262.2,966.3 266.2,969.5 270.2,972.5 274.2,975.6 278.1,978.6 282.1,981.5 286.1,984.5 290.1,987.4 294.1,990.3 298.1,993.1 302.1,996 306.1,998.8 310.1,1001.5 314,1004.2 318,1006.9 322,1009.5 326,1012.1 330,1014.7 334,1017.2 338,1019.8 342,1022.3 345.9,1024.7 349.9,1027.2 353.9,1029.6 357.9,1032 361.9,1034.4 365.9,1036.8 369.9,1039.1 373.9,1041.4 377.9,1043.6 381.8,1045.9 385.8,1048 389.8,1050.2 393.8,1052.3 397.8,1054.4 401.8,1056.4 405.8,1058.4 409.8,1060.4 413.7,1062.4 417.7,1064.3 421.7,1066.2 425.7,1068 429.7,1069.8 433.7,1071.5 437.7,1073.2 441.7,1074.8 445.7,1076.4 449.6,1078 453.6,1079.5 457.6,1081 461.6,1082.5 465.6,1084 469.6,1085.4 473.6,1086.9 477.6,1088.2 481.5,1089.6 485.5,1090.9 489.5,1092.3 493.5,1093.7 497.5,1095 501.5,1096.4 505.5,1097.7 509.5,1099 513.5,1100.3 517.4,1101.5 521.4,1102.7 525.4,1103.8 529.4,1104.9 533.4,1106 537.4,1107 541.4,1108 545.4,1109 549.4,1110 553.3,1110.9 557.3,1111.9 561.3,1112.9 565.3,1113.9 569.3,1114.8 573.3,1115.8 577.3,1116.8 581.3,1117.8 585.2,1118.7 589.2,1119.7 593.2,1120.7 597.2,1121.6 601.2,1122.5 605.2,1123.5 609.2,1124.4 613.2,1125.3 617.2,1126.1 621.1,1127 625.1,1127.8 629.1,1128.6 633.1,1129.4 637.1,1130.1 641.1,1130.8 645.1,1131.5 649.1,1132.2 653,1132.8 657,1133.4 661,1134 665,1134.5 669,1135 669,1187.4 665,1186.7 661,1186.1 657,1185.4 653,1184.8 649.1,1184.1 645.1,1183.4 641.1,1182.6 637.1,1181.9 633.1,1181.2 629.1,1180.4 625.1,1179.6 621.1,1178.8 617.2,1178 613.2,1177.3 609.2,1176.5 605.2,1175.7 601.2,1174.9 597.2,1174 593.2,1173.2 589.2,1172.4 585.2,1171.5 581.3,1170.6 577.3,1169.8 573.3,1168.9 569.3,1168 565.3,1167.1 561.3,1166.3 557.3,1165.3 553.3,1164.4 549.4,1163.5 545.4,1162.5 541.4,1161.6 537.4,1160.6 533.4,1159.6 529.4,1158.6 525.4,1157.6 521.4,1156.5 517.4,1155.5 513.5,1154.4 509.5,1153.3 505.5,1152.1 501.5,1151 497.5,1149.8 493.5,1148.7 489.5,1147.5 485.5,1146.2 481.5,1145 477.6,1143.8 473.6,1142.5 469.6,1141.2 465.6,1140 461.6,1138.7 457.6,1137.4 453.6,1136.1 449.6,1134.8 445.7,1133.5 441.7,1132.2 437.7,1130.9 433.7,1129.5 429.7,1128.2 425.7,1126.9 421.7,1125.5 417.7,1124.2 413.7,1122.8 409.8,1121.5 405.8,1120.1 401.8,1118.7 397.8,1117.2 393.8,1115.8 389.8,1114.3 385.8,1112.9 381.8,1111.4 377.9,1109.9 373.9,1108.4 369.9,1106.7 365.9,1105 361.9,1103.3 357.9,1101.5 353.9,1099.7 349.9,1098 345.9,1096.2 342,1094.4 338,1092.5 334,1090.7 330,1088.8 326,1087 322,1085.1 318,1083.2 314,1081.3 310.1,1079.4 306.1,1077.4 302.1,1075.4 298.1,1073.4 294.1,1071.4 290.1,1069.3 286.1,1067.3 282.1,1065.2 278.1,1063.1 274.2,1061 270.2,1058.9 266.2,1056.7 262.2,1054.6 258.2,1052.4 254.2,1050.2 250.2,1048 246.2,1045.8 242.2,1043.5 238.3,1041.2 234.3,1038.9 230.3,1036.6 226.3,1034.3 222.3,1031.9 218.3,1029.5 214.3,1027.1 210.3,1024.7 206.4,1022.2 202.4,1019.7 198.4,1017.2 194.4,1014.7 190.4,1012.2"/>
<polyline fill="none" stroke="#b9a650" stroke-width="7.9" stroke-linejoin="round" points="190.4,962.8 194.4,965.7 198.4,968.6 202.4,971.5 206.4,974.3 210.3,977.1 214.3,979.9 218.3,982.7 222.3,985.4 226.3,988.1 230.3,990.8 234.3,993.5 238.3,996.1 242.2,998.8 246.2,1001.4 250.2,1004 254.2,1006.6 258.2,1009.2 262.2,1011.8 266.2,1014.4 270.2,1016.9 274.2,1019.4 278.1,1021.9 282.1,1024.4 286.1,1026.8 290.1,1029.2 294.1,1031.6 298.1,1034 302.1,1036.3 306.1,1038.6 310.1,1040.9 314,1043.1 318,1045.4 322,1047.6 326,1049.8 330,1051.9 334,1054.1 338,1056.2 342,1058.3 345.9,1060.5 349.9,1062.6 353.9,1064.7 357.9,1066.7 361.9,1068.8 365.9,1070.9 369.9,1072.9 373.9,1074.9 377.9,1076.9 381.8,1078.8 385.8,1080.7 389.8,1082.5 393.8,1084.4 397.8,1086.2 401.8,1088 405.8,1089.8 409.8,1091.6 413.7,1093.3 417.7,1095 421.7,1096.7 425.7,1098.3 429.7,1099.9 433.7,1101.5 437.7,1103 441.7,1104.5 445.7,1105.9 449.6,1107.3 453.6,1108.8 457.6,1110.2 461.6,1111.6 465.6,1112.9 469.6,1114.3 473.6,1115.6 477.6,1117 481.5,1118.3 485.5,1119.5 489.5,1120.8 493.5,1122 497.5,1123.3 501.5,1124.4 505.5,1125.6 509.5,1126.7 513.5,1127.8 517.4,1128.9 521.4,1130 525.4,1131 529.4,1132 533.4,1133 537.4,1134 541.4,1135 545.4,1135.9 549.4,1136.8 553.3,1137.7 557.3,1138.7 561.3,1139.6 565.3,1140.6 569.3,1141.5 573.3,1142.5 577.3,1143.4 581.3,1144.3 585.2,1145.3 589.2,1146.2 593.2,1147.1 597.2,1148.1 601.2,1149 605.2,1149.9 609.2,1150.8 613.2,1151.7 617.2,1152.6 621.1,1153.5 625.1,1154.4 629.1,1155.3 633.1,1156.2 637.1,1157 641.1,1157.9 645.1,1158.7 649.1,1159.5 653,1160.4 657,1161.1 661,1161.9 665,1162.6 669,1163.4"/>
<rect x="168.3" y="892.3" width="523.3" height="307.6" fill="none" stroke="#000" stroke-width="3.0"/>
<line x1="129.3" y1="908.8" x2="165.3" y2="908.8" stroke="#000" stroke-width="6.0" stroke-linecap="round"/>
<text class="tk" text-anchor="end" transform="translate(116.1 919.1) scale(1 1.08)">3.0</text>
<line x1="129.3" y1="977" x2="165.3" y2="977" stroke="#000" stroke-width="6.0" stroke-linecap="round"/>
<text class="tk" text-anchor="end" transform="translate(116.1 987.3) scale(1 1.08)">2.5</text>
<line x1="129.3" y1="1045.2" x2="165.3" y2="1045.2" stroke="#000" stroke-width="6.0" stroke-linecap="round"/>
<text class="tk" text-anchor="end" transform="translate(116.1 1055.5) scale(1 1.08)">2.0</text>
<line x1="129.3" y1="1113.4" x2="165.3" y2="1113.4" stroke="#000" stroke-width="6.0" stroke-linecap="round"/>
<text class="tk" text-anchor="end" transform="translate(116.1 1123.7) scale(1 1.08)">1.5</text>
<line x1="129.3" y1="1181.6" x2="165.3" y2="1181.6" stroke="#000" stroke-width="6.0" stroke-linecap="round"/>
<text class="tk" text-anchor="end" transform="translate(116.1 1191.9) scale(1 1.08)">1.0</text>
<text class="tt" text-anchor="middle" transform="translate(430 861.9) scale(1 1.05)">India</text>
<text class="lt" transform="translate(136 870.2)">g</text>
</g>
<g id="panel-h">
<polygon fill="#f6f8e8" points="829.6,904.9 833.6,908.9 837.6,912.9 841.6,916.9 845.6,920.8 849.5,924.7 853.5,928.6 857.5,932.4 861.5,936.2 865.5,940 869.5,943.8 873.5,947.5 877.5,951.2 881.5,954.8 885.4,958.5 889.4,962 893.4,965.6 897.4,969.1 901.4,972.6 905.4,976 909.4,979.4 913.4,982.7 917.4,985.9 921.4,989.1 925.3,992.2 929.3,995.2 933.3,998.2 937.3,1001.2 941.3,1004.1 945.3,1007 949.3,1009.9 953.3,1012.7 957.3,1015.5 961.2,1018.3 965.2,1021.1 969.2,1023.9 973.2,1026.5 977.2,1029.1 981.2,1031.7 985.2,1034.2 989.2,1036.7 993.2,1039.2 997.1,1041.7 1001.1,1044.2 1005.1,1046.7 1009.1,1049.2 1013.1,1051.6 1017.1,1054 1021.1,1056.3 1025.1,1058.6 1029.1,1060.8 1033,1062.9 1037,1065 1041,1067 1045,1069 1049,1070.9 1053,1072.8 1057,1074.6 1061,1076.4 1065,1078.2 1069,1080 1072.9,1081.7 1076.9,1083.4 1080.9,1085.1 1084.9,1086.7 1088.9,1088.4 1092.9,1089.9 1096.9,1091.5 1100.9,1093 1104.9,1094.4 1108.8,1095.9 1112.8,1097.3 1116.8,1098.6 1120.8,1099.9 1124.8,1101.3 1128.8,1102.6 1132.8,1103.9 1136.8,1105.2 1140.8,1106.5 1144.7,1107.9 1148.7,1109.1 1152.7,1110.4 1156.7,1111.5 1160.7,1112.7 1164.7,1113.8 1168.7,1114.9 1172.7,1116 1176.7,1117 1180.6,1118.1 1184.6,1119.1 1188.6,1120.2 1192.6,1121.2 1196.6,1122.2 1200.6,1123.2 1204.6,1124.2 1208.6,1125.2 1212.6,1126.1 1216.5,1127.1 1220.5,1128 1224.5,1128.9 1228.5,1129.8 1232.5,1130.6 1236.5,1131.5 1240.5,1132.3 1244.5,1133.1 1248.5,1133.9 1252.5,1134.6 1256.4,1135.4 1260.4,1136.1 1264.4,1136.8 1268.4,1137.5 1272.4,1138.1 1276.4,1138.8 1280.4,1139.4 1284.4,1140 1288.4,1140.6 1292.3,1141.2 1296.3,1141.7 1300.3,1142.2 1304.3,1142.7 1308.3,1143.2 1308.3,1186.8 1304.3,1186.4 1300.3,1186.1 1296.3,1185.8 1292.3,1185.4 1288.4,1185 1284.4,1184.7 1280.4,1184.3 1276.4,1183.9 1272.4,1183.5 1268.4,1183.1 1264.4,1182.7 1260.4,1182.2 1256.4,1181.8 1252.5,1181.3 1248.5,1180.8 1244.5,1180.4 1240.5,1179.9 1236.5,1179.4 1232.5,1178.8 1228.5,1178.3 1224.5,1177.8 1220.5,1177.3 1216.5,1176.7 1212.6,1176.1 1208.6,1175.6 1204.6,1175 1200.6,1174.4 1196.6,1173.8 1192.6,1173.1 1188.6,1172.5 1184.6,1171.8 1180.6,1171.2 1176.7,1170.5 1172.7,1169.8 1168.7,1169.1 1164.7,1168.4 1160.7,1167.7 1156.7,1166.9 1152.7,1166.2 1148.7,1165.4 1144.7,1164.5 1140.8,1163.6 1136.8,1162.8 1132.8,1161.9 1128.8,1161 1124.8,1160.1 1120.8,1159.3 1116.8,1158.4 1112.8,1157.5 1108.8,1156.6 1104.9,1155.7 1100.9,1154.8 1096.9,1153.8 1092.9,1152.9 1088.9,1151.9 1084.9,1150.9 1080.9,1149.9 1076.9,1148.9 1072.9,1147.9 1069,1146.8 1065,1145.7 1061,1144.6 1057,1143.5 1053,1142.3 1049,1141.1 1045,1139.9 1041,1138.6 1037,1137.3 1033,1136 1029.1,1134.6 1025.1,1133.2 1021.1,1131.7 1017.1,1130.2 1013.1,1128.7 1009.1,1127.1 1005.1,1125.6 1001.1,1124 997.1,1122.4 993.2,1120.8 989.2,1119.2 985.2,1117.6 981.2,1116 977.2,1114.4 973.2,1112.7 969.2,1111.1 965.2,1109.4 961.2,1107.7 957.3,1106 953.3,1104.2 949.3,1102.4 945.3,1100.6 941.3,1098.7 937.3,1096.8 933.3,1094.9 929.3,1093 925.3,1091.1 921.4,1089.2 917.4,1087.2 913.4,1085.2 909.4,1083.1 905.4,1081.1 901.4,1078.9 897.4,1076.8 893.4,1074.7 889.4,1072.5 885.4,1070.3 881.5,1068.1 877.5,1065.9 873.5,1063.6 869.5,1061.4 865.5,1059.1 861.5,1056.8 857.5,1054.6 853.5,1052.3 849.5,1049.9 845.6,1047.6 841.6,1045.3 837.6,1042.9 833.6,1040.5 829.6,1038.1"/>
<polyline fill="none" stroke="#b9a650" stroke-width="7.9" stroke-linejoin="round" points="829.6,980.7 833.6,983.9 837.6,987.1 841.6,990.3 845.6,993.5 849.5,996.6 853.5,999.8 857.5,1002.9 861.5,1006.1 865.5,1009.1 869.5,1012.2 873.5,1015.1 877.5,1018 881.5,1020.9 885.4,1023.8 889.4,1026.7 893.4,1029.5 897.4,1032.3 901.4,1035.1 905.4,1037.9 909.4,1040.5 913.4,1043.2 917.4,1045.7 921.4,1048.2 925.3,1050.7 929.3,1053.1 933.3,1055.5 937.3,1057.8 941.3,1060.2 945.3,1062.5 949.3,1064.7 953.3,1066.9 957.3,1069 961.2,1071.1 965.2,1073 969.2,1075 973.2,1077 977.2,1078.9 981.2,1080.8 985.2,1082.7 989.2,1084.5 993.2,1086.4 997.1,1088.3 1001.1,1090.2 1005.1,1092.2 1009.1,1094.1 1013.1,1095.9 1017.1,1097.8 1021.1,1099.6 1025.1,1101.4 1029.1,1103.2 1033,1105 1037,1106.7 1041,1108.3 1045,1110 1049,1111.6 1053,1113.2 1057,1114.7 1061,1116.3 1065,1117.7 1069,1119.2 1072.9,1120.6 1076.9,1121.9 1080.9,1123.2 1084.9,1124.4 1088.9,1125.6 1092.9,1126.8 1096.9,1128 1100.9,1129.1 1104.9,1130.2 1108.8,1131.3 1112.8,1132.3 1116.8,1133.3 1120.8,1134.4 1124.8,1135.3 1128.8,1136.3 1132.8,1137.3 1136.8,1138.4 1140.8,1139.4 1144.7,1140.4 1148.7,1141.4 1152.7,1142.3 1156.7,1143.2 1160.7,1144.2 1164.7,1145.1 1168.7,1145.9 1172.7,1146.8 1176.7,1147.7 1180.6,1148.5 1184.6,1149.4 1188.6,1150.2 1192.6,1151 1196.6,1151.8 1200.6,1152.6 1204.6,1153.4 1208.6,1154.2 1212.6,1154.9 1216.5,1155.6 1220.5,1156.4 1224.5,1157.1 1228.5,1157.7 1232.5,1158.4 1236.5,1159.1 1240.5,1159.7 1244.5,1160.3 1248.5,1160.9 1252.5,1161.5 1256.4,1162.1 1260.4,1162.7 1264.4,1163.2 1268.4,1163.8 1272.4,1164.3 1276.4,1164.8 1280.4,1165.3 1284.4,1165.8 1288.4,1166.3 1292.3,1166.8 1296.3,1167.3 1300.3,1167.8 1304.3,1168.2 1308.3,1168.7"/>
<rect x="807.5" y="892.3" width="523.4" height="307.6" fill="none" stroke="#000" stroke-width="3.0"/>
<line x1="768.5" y1="974.8" x2="804.5" y2="974.8" stroke="#000" stroke-width="6.0" stroke-linecap="round"/>
<text class="tk" text-anchor="end" transform="translate(755.3 985.1) scale(1 1.08)">15</text>
<line x1="768.5" y1="1065.1" x2="804.5" y2="1065.1" stroke="#000" stroke-width="6.0" stroke-linecap="round"/>
<text class="tk" text-anchor="end" transform="translate(755.3 1075.4) scale(1 1.08)">10</text>
<line x1="768.5" y1="1155.5" x2="804.5" y2="1155.5" stroke="#000" stroke-width="6.0" stroke-linecap="round"/>
<text class="tk" text-anchor="end" transform="translate(755.3 1165.8) scale(1 1.08)">5</text>
<text class="tt" text-anchor="middle" transform="translate(1069.2 861.9) scale(1 1.05)">Kenya</text>
<text class="lt" transform="translate(775.2 870.2)">h</text>
</g>
<g id="panel-i">
<polygon fill="#f6f8e8" points="1484.6,904.9 1488.6,908.3 1492.6,911.7 1496.6,915 1500.6,918.2 1504.5,921.3 1508.5,924.4 1512.5,927.4 1516.5,930.4 1520.5,933.3 1524.5,936.1 1528.5,938.8 1532.5,941.5 1536.4,944.2 1540.4,946.7 1544.4,949.2 1548.4,951.7 1552.4,954.1 1556.4,956.4 1560.4,958.7 1564.4,960.9 1568.4,963.1 1572.3,965.2 1576.3,967.3 1580.3,969.3 1584.3,971.2 1588.3,973.1 1592.3,975 1596.3,976.8 1600.3,978.5 1604.2,980.2 1608.2,981.9 1612.2,983.5 1616.2,985 1620.2,986.6 1624.2,988 1628.2,989.5 1632.2,990.8 1636.2,992.2 1640.1,993.5 1644.1,994.7 1648.1,995.9 1652.1,997.1 1656.1,998.2 1660.1,999.3 1664.1,1000.4 1668.1,1001.4 1672.1,1002.4 1676,1003.4 1680,1004.3 1684,1005.3 1688,1006.2 1692,1007.1 1696,1008 1700,1008.9 1704,1009.8 1707.9,1010.7 1711.9,1011.6 1715.9,1012.4 1719.9,1013.2 1723.9,1014 1727.9,1014.7 1731.9,1015.3 1735.9,1015.9 1739.9,1016.4 1743.8,1016.9 1747.8,1017.5 1751.8,1018.1 1755.8,1018.8 1759.8,1019.6 1763.8,1020.6 1767.8,1021.6 1771.8,1022.7 1775.7,1024 1779.7,1025.2 1783.7,1026.6 1787.7,1027.9 1791.7,1029.2 1795.7,1030.4 1799.7,1031.7 1803.7,1032.8 1807.7,1034 1811.6,1035 1815.6,1036 1819.6,1037.1 1823.6,1038.1 1827.6,1039.1 1831.6,1040.1 1835.6,1041.2 1839.6,1042.3 1843.5,1043.4 1847.5,1044.6 1851.5,1045.9 1855.5,1047.2 1859.5,1048.5 1863.5,1049.9 1867.5,1051.3 1871.5,1052.7 1875.5,1054.1 1879.4,1055.4 1883.4,1056.8 1887.4,1058.2 1891.4,1059.5 1895.4,1060.9 1899.4,1062.2 1903.4,1063.5 1907.4,1064.8 1911.4,1066.1 1915.3,1067.5 1919.3,1068.8 1923.3,1070.1 1927.3,1071.4 1931.3,1072.7 1935.3,1074.1 1939.3,1075.5 1943.3,1076.8 1947.2,1078.2 1951.2,1079.6 1955.2,1081.1 1959.2,1082.5 1963.2,1084 1963.2,1186.8 1959.2,1185.7 1955.2,1184.6 1951.2,1183.5 1947.2,1182.5 1943.3,1181.4 1939.3,1180.4 1935.3,1179.3 1931.3,1178.3 1927.3,1177.2 1923.3,1176.2 1919.3,1175.2 1915.3,1174.1 1911.4,1173.1 1907.4,1172 1903.4,1171 1899.4,1169.9 1895.4,1168.9 1891.4,1167.8 1887.4,1166.7 1883.4,1165.6 1879.4,1164.5 1875.5,1163.3 1871.5,1162.2 1867.5,1161.1 1863.5,1160 1859.5,1158.9 1855.5,1157.8 1851.5,1156.8 1847.5,1155.8 1843.5,1154.8 1839.6,1153.9 1835.6,1153.1 1831.6,1152.3 1827.6,1151.5 1823.6,1150.8 1819.6,1150 1815.6,1149.3 1811.6,1148.5 1807.7,1147.7 1803.7,1146.9 1799.7,1146 1795.7,1145.1 1791.7,1144.1 1787.7,1143 1783.7,1142 1779.7,1141 1775.7,1140 1771.8,1139 1767.8,1138.1 1763.8,1137.3 1759.8,1136.6 1755.8,1136 1751.8,1135.5 1747.8,1135.1 1743.8,1134.8 1739.9,1134.4 1735.9,1134.1 1731.9,1133.7 1727.9,1133.3 1723.9,1132.8 1719.9,1132.2 1715.9,1131.6 1711.9,1131 1707.9,1130.3 1704,1129.6 1700,1128.9 1696,1128.2 1692,1127.4 1688,1126.7 1684,1125.9 1680,1125.2 1676,1124.4 1672.1,1123.6 1668.1,1122.8 1664.1,1121.9 1660.1,1121.1 1656.1,1120.2 1652.1,1119.4 1648.1,1118.5 1644.1,1117.6 1640.1,1116.7 1636.2,1115.8 1632.2,1114.9 1628.2,1113.9 1624.2,1113 1620.2,1112 1616.2,1111 1612.2,1110 1608.2,1108.9 1604.2,1107.9 1600.3,1106.8 1596.3,1105.7 1592.3,1104.5 1588.3,1103.4 1584.3,1102.2 1580.3,1101 1576.3,1099.8 1572.3,1098.5 1568.4,1097.3 1564.4,1096 1560.4,1094.7 1556.4,1093.3 1552.4,1092 1548.4,1090.6 1544.4,1089.2 1540.4,1087.8 1536.4,1086.4 1532.5,1084.9 1528.5,1083.4 1524.5,1081.9 1520.5,1080.4 1516.5,1078.9 1512.5,1077.4 1508.5,1075.8 1504.5,1074.2 1500.6,1072.6 1496.6,1071 1492.6,1069.4 1488.6,1067.8 1484.6,1066.1"/>
<polyline fill="none" stroke="#b9a650" stroke-width="7.9" stroke-linejoin="round" points="1484.6,994.5 1488.6,996.8 1492.6,999.2 1496.6,1001.5 1500.6,1003.8 1504.5,1006 1508.5,1008.3 1512.5,1010.5 1516.5,1012.6 1520.5,1014.7 1524.5,1016.8 1528.5,1018.9 1532.5,1020.9 1536.4,1022.9 1540.4,1024.8 1544.4,1026.7 1548.4,1028.6 1552.4,1030.4 1556.4,1032.2 1560.4,1034 1564.4,1035.7 1568.4,1037.4 1572.3,1039 1576.3,1040.6 1580.3,1042.2 1584.3,1043.7 1588.3,1045.2 1592.3,1046.7 1596.3,1048.1 1600.3,1049.4 1604.2,1050.8 1608.2,1052.1 1612.2,1053.3 1616.2,1054.5 1620.2,1055.7 1624.2,1056.9 1628.2,1058.1 1632.2,1059.2 1636.2,1060.3 1640.1,1061.3 1644.1,1062.4 1648.1,1063.4 1652.1,1064.4 1656.1,1065.4 1660.1,1066.4 1664.1,1067.3 1668.1,1068.3 1672.1,1069.2 1676,1070.1 1680,1071 1684,1071.8 1688,1072.7 1692,1073.5 1696,1074.3 1700,1075.1 1704,1075.9 1707.9,1076.7 1711.9,1077.4 1715.9,1078.1 1719.9,1078.8 1723.9,1079.4 1727.9,1080 1731.9,1080.6 1735.9,1081.1 1739.9,1081.6 1743.8,1082 1747.8,1082.5 1751.8,1083.1 1755.8,1083.6 1759.8,1084.3 1763.8,1085 1767.8,1085.8 1771.8,1086.6 1775.7,1087.6 1779.7,1088.5 1783.7,1089.5 1787.7,1090.5 1791.7,1091.6 1795.7,1092.6 1799.7,1093.7 1803.7,1094.7 1807.7,1095.8 1811.6,1096.8 1815.6,1097.8 1819.6,1098.9 1823.6,1099.9 1827.6,1101 1831.6,1102.1 1835.6,1103.2 1839.6,1104.3 1843.5,1105.4 1847.5,1106.6 1851.5,1107.7 1855.5,1108.9 1859.5,1110.1 1863.5,1111.3 1867.5,1112.5 1871.5,1113.7 1875.5,1115 1879.4,1116.2 1883.4,1117.4 1887.4,1118.6 1891.4,1119.8 1895.4,1121 1899.4,1122.2 1903.4,1123.4 1907.4,1124.6 1911.4,1125.8 1915.3,1127 1919.3,1128.2 1923.3,1129.3 1927.3,1130.5 1931.3,1131.7 1935.3,1132.9 1939.3,1134.1 1943.3,1135.3 1947.2,1136.5 1951.2,1137.7 1955.2,1138.9 1959.2,1140.1 1963.2,1141.3"/>
<rect x="1462.5" y="892.3" width="523.3" height="307.6" fill="none" stroke="#000" stroke-width="3.0"/>
<line x1="1423.5" y1="909.1" x2="1459.5" y2="909.1" stroke="#000" stroke-width="6.0" stroke-linecap="round"/>
<text class="tk" text-anchor="end" transform="translate(1410.3 919.4) scale(1 1.08)">80</text>
<line x1="1423.5" y1="967.8" x2="1459.5" y2="967.8" stroke="#000" stroke-width="6.0" stroke-linecap="round"/>
<text class="tk" text-anchor="end" transform="translate(1410.3 978.1) scale(1 1.08)">70</text>
<line x1="1423.5" y1="1026.4" x2="1459.5" y2="1026.4" stroke="#000" stroke-width="6.0" stroke-linecap="round"/>
<text class="tk" text-anchor="end" transform="translate(1410.3 1036.7) scale(1 1.08)">60</text>
<line x1="1423.5" y1="1085.1" x2="1459.5" y2="1085.1" stroke="#000" stroke-width="6.0" stroke-linecap="round"/>
<text class="tk" text-anchor="end" transform="translate(1410.3 1095.4) scale(1 1.08)">50</text>
<line x1="1423.5" y1="1143.8" x2="1459.5" y2="1143.8" stroke="#000" stroke-width="6.0" stroke-linecap="round"/>
<text class="tk" text-anchor="end" transform="translate(1410.3 1154.1) scale(1 1.08)">40</text>
<text class="tt" text-anchor="middle" transform="translate(1724.2 861.9) scale(1 1.05)">Mali</text>
<text class="lt" transform="translate(1430.2 870.2)">i</text>
</g>
<g id="panel-j">
<polygon fill="#f6f8e8" points="190.4,1323.4 194.4,1327.8 198.4,1332.2 202.4,1336.3 206.4,1340.4 210.3,1344.4 214.3,1348.2 218.3,1351.9 222.3,1355.5 226.3,1359 230.3,1362.3 234.3,1365.6 238.3,1368.7 242.2,1371.8 246.2,1374.7 250.2,1377.6 254.2,1380.4 258.2,1383 262.2,1385.6 266.2,1388.1 270.2,1390.5 274.2,1392.9 278.1,1395.1 282.1,1397.3 286.1,1399.4 290.1,1401.5 294.1,1403.4 298.1,1405.3 302.1,1407.2 306.1,1409 310.1,1410.7 314,1412.3 318,1413.8 322,1415.3 326,1416.6 330,1417.9 334,1419.1 338,1420.1 342,1421 345.9,1421.8 349.9,1422.5 353.9,1423.2 357.9,1423.8 361.9,1424.4 365.9,1424.9 369.9,1425.5 373.9,1426.1 377.9,1426.7 381.8,1427.2 385.8,1427.8 389.8,1428.4 393.8,1428.9 397.8,1429.4 401.8,1429.9 405.8,1430.3 409.8,1430.7 413.7,1431.1 417.7,1431.4 421.7,1431.7 425.7,1432 429.7,1432.3 433.7,1432.6 437.7,1433 441.7,1433.3 445.7,1433.7 449.6,1434.2 453.6,1434.7 457.6,1435.3 461.6,1436 465.6,1436.7 469.6,1437.6 473.6,1438.7 477.6,1439.9 481.5,1441.2 485.5,1442.7 489.5,1444.3 493.5,1446 497.5,1447.7 501.5,1449.4 505.5,1451.2 509.5,1452.9 513.5,1454.6 517.4,1456.3 521.4,1458 525.4,1459.6 529.4,1461.3 533.4,1463 537.4,1464.6 541.4,1466.3 545.4,1467.9 549.4,1469.6 553.3,1471.2 557.3,1472.8 561.3,1474.5 565.3,1476.1 569.3,1477.8 573.3,1479.4 577.3,1481.1 581.3,1482.7 585.2,1484.4 589.2,1486.1 593.2,1487.7 597.2,1489.4 601.2,1491 605.2,1492.7 609.2,1494.3 613.2,1496 617.2,1497.6 621.1,1499.3 625.1,1500.9 629.1,1502.5 633.1,1504.2 637.1,1505.8 641.1,1507.4 645.1,1509.1 649.1,1510.7 653,1512.3 657,1513.9 661,1515.5 665,1517.1 669,1518.7 669,1605.8 665,1604.9 661,1603.9 657,1602.9 653,1601.9 649.1,1600.9 645.1,1599.9 641.1,1598.8 637.1,1597.7 633.1,1596.6 629.1,1595.5 625.1,1594.4 621.1,1593.4 617.2,1592.3 613.2,1591.2 609.2,1590.1 605.2,1589 601.2,1587.9 597.2,1586.9 593.2,1585.9 589.2,1584.9 585.2,1583.9 581.3,1582.9 577.3,1582 573.3,1581 569.3,1580.1 565.3,1579.2 561.3,1578.3 557.3,1577.4 553.3,1576.5 549.4,1575.5 545.4,1574.6 541.4,1573.6 537.4,1572.6 533.4,1571.6 529.4,1570.6 525.4,1569.6 521.4,1568.6 517.4,1567.6 513.5,1566.6 509.5,1565.6 505.5,1564.7 501.5,1563.8 497.5,1563 493.5,1562.2 489.5,1561.4 485.5,1560.7 481.5,1560.1 477.6,1559.6 473.6,1559.1 469.6,1558.7 465.6,1558.4 461.6,1558.1 457.6,1557.9 453.6,1557.7 449.6,1557.6 445.7,1557.4 441.7,1557.3 437.7,1557.2 433.7,1557.1 429.7,1557.1 425.7,1557 421.7,1556.9 417.7,1556.9 413.7,1556.8 409.8,1556.8 405.8,1556.7 401.8,1556.6 397.8,1556.5 393.8,1556.5 389.8,1556.4 385.8,1556.2 381.8,1556.1 377.9,1555.9 373.9,1555.8 369.9,1555.5 365.9,1555.3 361.9,1555 357.9,1554.7 353.9,1554.4 349.9,1554 345.9,1553.5 342,1553 338,1552.4 334,1551.8 330,1551 326,1550.2 322,1549.3 318,1548.4 314,1547.4 310.1,1546.4 306.1,1545.3 302.1,1544.2 298.1,1543 294.1,1541.8 290.1,1540.6 286.1,1539.4 282.1,1538.1 278.1,1536.7 274.2,1535.4 270.2,1534 266.2,1532.6 262.2,1531.1 258.2,1529.6 254.2,1528.1 250.2,1526.6 246.2,1525.1 242.2,1523.5 238.3,1521.9 234.3,1520.3 230.3,1518.6 226.3,1516.9 222.3,1515.3 218.3,1513.5 214.3,1511.8 210.3,1510.1 206.4,1508.3 202.4,1506.5 198.4,1504.7 194.4,1502.9 190.4,1501.1"/>
<polyline fill="none" stroke="#b9a650" stroke-width="7.9" stroke-linejoin="round" points="190.4,1426.4 194.4,1429.2 198.4,1431.9 202.4,1434.5 206.4,1437.1 210.3,1439.6 214.3,1442 218.3,1444.4 222.3,1446.7 226.3,1448.9 230.3,1451.1 234.3,1453.2 238.3,1455.3 242.2,1457.3 246.2,1459.3 250.2,1461.2 254.2,1463.1 258.2,1464.9 262.2,1466.7 266.2,1468.4 270.2,1470.1 274.2,1471.8 278.1,1473.4 282.1,1475 286.1,1476.6 290.1,1478.1 294.1,1479.6 298.1,1481.1 302.1,1482.5 306.1,1483.9 310.1,1485.3 314,1486.7 318,1488 322,1489.2 326,1490.4 330,1491.5 334,1492.6 338,1493.6 342,1494.6 345.9,1495.5 349.9,1496.3 353.9,1497 357.9,1497.7 361.9,1498.3 365.9,1498.8 369.9,1499.2 373.9,1499.6 377.9,1500 381.8,1500.3 385.8,1500.5 389.8,1500.7 393.8,1500.9 397.8,1501.1 401.8,1501.3 405.8,1501.5 409.8,1501.7 413.7,1502 417.7,1502.2 421.7,1502.5 425.7,1502.7 429.7,1503 433.7,1503.3 437.7,1503.6 441.7,1503.9 445.7,1504.1 449.6,1504.4 453.6,1504.7 457.6,1505 461.6,1505.3 465.6,1505.6 469.6,1506.1 473.6,1506.6 477.6,1507.3 481.5,1508.1 485.5,1508.9 489.5,1509.9 493.5,1511 497.5,1512.1 501.5,1513.2 505.5,1514.4 509.5,1515.5 513.5,1516.7 517.4,1517.9 521.4,1519.1 525.4,1520.3 529.4,1521.5 533.4,1522.7 537.4,1523.9 541.4,1525.1 545.4,1526.3 549.4,1527.6 553.3,1528.8 557.3,1530.1 561.3,1531.3 565.3,1532.6 569.3,1533.9 573.3,1535.2 577.3,1536.4 581.3,1537.8 585.2,1539.1 589.2,1540.4 593.2,1541.8 597.2,1543.1 601.2,1544.5 605.2,1545.9 609.2,1547.3 613.2,1548.7 617.2,1550.1 621.1,1551.5 625.1,1552.9 629.1,1554.3 633.1,1555.7 637.1,1557.1 641.1,1558.4 645.1,1559.8 649.1,1561.2 653,1562.5 657,1563.9 661,1565.2 665,1566.5 669,1567.8"/>
<rect x="168.3" y="1310.9" width="523.3" height="308.1" fill="none" stroke="#000" stroke-width="3.0"/>
<line x1="129.3" y1="1318.3" x2="165.3" y2="1318.3" stroke="#000" stroke-width="6.0" stroke-linecap="round"/>
<text class="tk" text-anchor="end" transform="translate(116.1 1328.6) scale(1 1.08)">11</text>
<line x1="129.3" y1="1393.8" x2="165.3" y2="1393.8" stroke="#000" stroke-width="6.0" stroke-linecap="round"/>
<text class="tk" text-anchor="end" transform="translate(116.1 1404.1) scale(1 1.08)">9</text>
<line x1="129.3" y1="1469.2" x2="165.3" y2="1469.2" stroke="#000" stroke-width="6.0" stroke-linecap="round"/>
<text class="tk" text-anchor="end" transform="translate(116.1 1479.5) scale(1 1.08)">7</text>
<line x1="129.3" y1="1544.7" x2="165.3" y2="1544.7" stroke="#000" stroke-width="6.0" stroke-linecap="round"/>
<text class="tk" text-anchor="end" transform="translate(116.1 1555) scale(1 1.08)">5</text>
<line x1="129.3" y1="1620.2" x2="165.3" y2="1620.2" stroke="#000" stroke-width="6.0" stroke-linecap="round"/>
<text class="tk" text-anchor="end" transform="translate(116.1 1630.5) scale(1 1.08)">3</text>
<text class="tt" text-anchor="middle" transform="translate(430 1280.5) scale(1 1.05)">Nigerai</text>
<text class="lt" transform="translate(137.5 1288.2)">j</text>
<line x1="190.4" y1="1622" x2="190.4" y2="1656.7" stroke="#000" stroke-width="6.0" stroke-linecap="round"/>
<text class="tk" text-anchor="middle" transform="translate(190.4 1691) scale(1 1.08)">1970</text>
<line x1="381.8" y1="1622" x2="381.8" y2="1656.7" stroke="#000" stroke-width="6.0" stroke-linecap="round"/>
<text class="tk" text-anchor="middle" transform="translate(381.8 1691) scale(1 1.08)">1990</text>
<line x1="669" y1="1622" x2="669" y2="1656.7" stroke="#000" stroke-width="6.0" stroke-linecap="round"/>
<text class="tk" text-anchor="middle" transform="translate(669 1691) scale(1 1.08)">2020</text>
</g>
<g id="panel-k">
<polygon fill="#f6f8e8" points="829.6,1463.6 833.6,1465.5 837.6,1467.2 841.6,1468.9 845.6,1470.5 849.5,1472 853.5,1473.5 857.5,1474.8 861.5,1476.1 865.5,1477.3 869.5,1478.4 873.5,1479.4 877.5,1480.4 881.5,1481.2 885.4,1482 889.4,1482.7 893.4,1483.4 897.4,1483.9 901.4,1484.4 905.4,1484.7 909.4,1485 913.4,1485.3 917.4,1485.4 921.4,1485.5 925.3,1485.5 929.3,1485.5 933.3,1485.4 937.3,1485.3 941.3,1485.1 945.3,1484.9 949.3,1484.7 953.3,1484.4 957.3,1484.2 961.2,1483.9 965.2,1483.5 969.2,1483.1 973.2,1482.7 977.2,1482.1 981.2,1481.5 985.2,1480.8 989.2,1479.9 993.2,1479 997.1,1477.9 1001.1,1476.7 1005.1,1475.4 1009.1,1474 1013.1,1472.6 1017.1,1471.2 1021.1,1469.8 1025.1,1468.3 1029.1,1466.9 1033,1465.4 1037,1464 1041,1462.5 1045,1460.9 1049,1459.3 1053,1457.6 1057,1455.8 1061,1453.9 1065,1451.9 1069,1449.8 1072.9,1447.6 1076.9,1445.3 1080.9,1443 1084.9,1440.7 1088.9,1438.3 1092.9,1436 1096.9,1433.6 1100.9,1431.4 1104.9,1429.2 1108.8,1427 1112.8,1424.9 1116.8,1422.9 1120.8,1420.9 1124.8,1418.9 1128.8,1417 1132.8,1415.1 1136.8,1413.2 1140.8,1411.2 1144.7,1409.3 1148.7,1407.4 1152.7,1405.4 1156.7,1403.4 1160.7,1401.4 1164.7,1399.4 1168.7,1397.4 1172.7,1395.4 1176.7,1393.4 1180.6,1391.4 1184.6,1389.4 1188.6,1387.4 1192.6,1385.4 1196.6,1383.4 1200.6,1381.5 1204.6,1379.5 1208.6,1377.5 1212.6,1375.5 1216.5,1373.5 1220.5,1371.5 1224.5,1369.5 1228.5,1367.5 1232.5,1365.4 1236.5,1363.3 1240.5,1361.3 1244.5,1359.1 1248.5,1357 1252.5,1354.9 1256.4,1352.7 1260.4,1350.6 1264.4,1348.4 1268.4,1346.2 1272.4,1344 1276.4,1341.8 1280.4,1339.6 1284.4,1337.4 1288.4,1335.1 1292.3,1332.9 1296.3,1330.7 1300.3,1328.4 1304.3,1326.2 1308.3,1323.9 1308.3,1511.3 1304.3,1512.7 1300.3,1514 1296.3,1515.4 1292.3,1516.7 1288.4,1517.9 1284.4,1519.1 1280.4,1520.3 1276.4,1521.5 1272.4,1522.7 1268.4,1523.8 1264.4,1524.9 1260.4,1526 1256.4,1527.1 1252.5,1528.1 1248.5,1529.2 1244.5,1530.3 1240.5,1531.3 1236.5,1532.3 1232.5,1533.4 1228.5,1534.4 1224.5,1535.5 1220.5,1536.5 1216.5,1537.6 1212.6,1538.6 1208.6,1539.7 1204.6,1540.7 1200.6,1541.8 1196.6,1542.9 1192.6,1543.9 1188.6,1545 1184.6,1546.1 1180.6,1547.2 1176.7,1548.3 1172.7,1549.3 1168.7,1550.4 1164.7,1551.5 1160.7,1552.6 1156.7,1553.6 1152.7,1554.7 1148.7,1555.7 1144.7,1556.7 1140.8,1557.7 1136.8,1558.7 1132.8,1559.7 1128.8,1560.7 1124.8,1561.8 1120.8,1562.8 1116.8,1563.9 1112.8,1565 1108.8,1566.1 1104.9,1567.3 1100.9,1568.5 1096.9,1569.8 1092.9,1571.1 1088.9,1572.5 1084.9,1573.9 1080.9,1575.2 1076.9,1576.6 1072.9,1578 1069,1579.3 1065,1580.6 1061,1581.8 1057,1583 1053,1584.1 1049,1585.2 1045,1586.3 1041,1587.3 1037,1588.4 1033,1589.4 1029.1,1590.4 1025.1,1591.4 1021.1,1592.4 1017.1,1593.5 1013.1,1594.5 1009.1,1595.5 1005.1,1596.6 1001.1,1597.6 997.1,1598.5 993.2,1599.4 989.2,1600.2 985.2,1600.9 981.2,1601.6 977.2,1602.2 973.2,1602.7 969.2,1603.2 965.2,1603.7 961.2,1604.1 957.3,1604.5 953.3,1604.8 949.3,1605.1 945.3,1605.4 941.3,1605.7 937.3,1605.9 933.3,1606.1 929.3,1606.3 925.3,1606.4 921.4,1606.4 917.4,1606.4 913.4,1606.4 909.4,1606.3 905.4,1606.1 901.4,1605.9 897.4,1605.7 893.4,1605.3 889.4,1605 885.4,1604.5 881.5,1604 877.5,1603.5 873.5,1602.9 869.5,1602.3 865.5,1601.6 861.5,1600.9 857.5,1600.2 853.5,1599.4 849.5,1598.6 845.6,1597.7 841.6,1596.8 837.6,1595.9 833.6,1594.9 829.6,1593.9"/>
<polyline fill="none" stroke="#b9a650" stroke-width="7.9" stroke-linejoin="round" points="829.6,1535.2 833.6,1536.7 837.6,1538.1 841.6,1539.3 845.6,1540.6 849.5,1541.7 853.5,1542.8 857.5,1543.8 861.5,1544.7 865.5,1545.6 869.5,1546.4 873.5,1547.1 877.5,1547.8 881.5,1548.4 885.4,1549 889.4,1549.5 893.4,1549.9 897.4,1550.3 901.4,1550.7 905.4,1551 909.4,1551.2 913.4,1551.4 917.4,1551.5 921.4,1551.6 925.3,1551.6 929.3,1551.6 933.3,1551.5 937.3,1551.4 941.3,1551.3 945.3,1551.1 949.3,1550.8 953.3,1550.5 957.3,1550.2 961.2,1549.8 965.2,1549.4 969.2,1548.9 973.2,1548.3 977.2,1547.7 981.2,1546.9 985.2,1546.1 989.2,1545.3 993.2,1544.3 997.1,1543.2 1001.1,1542.1 1005.1,1540.9 1009.1,1539.6 1013.1,1538.4 1017.1,1537.1 1021.1,1535.9 1025.1,1534.7 1029.1,1533.5 1033,1532.3 1037,1531.2 1041,1530 1045,1528.8 1049,1527.5 1053,1526.2 1057,1524.9 1061,1523.5 1065,1522 1069,1520.4 1072.9,1518.8 1076.9,1517.1 1080.9,1515.4 1084.9,1513.6 1088.9,1511.9 1092.9,1510.2 1096.9,1508.4 1100.9,1506.8 1104.9,1505.1 1108.8,1503.6 1112.8,1502 1116.8,1500.5 1120.8,1499.1 1124.8,1497.6 1128.8,1496.2 1132.8,1494.8 1136.8,1493.4 1140.8,1492 1144.7,1490.6 1148.7,1489.2 1152.7,1487.8 1156.7,1486.3 1160.7,1484.9 1164.7,1483.4 1168.7,1481.9 1172.7,1480.5 1176.7,1479 1180.6,1477.5 1184.6,1476 1188.6,1474.5 1192.6,1473 1196.6,1471.5 1200.6,1470 1204.6,1468.5 1208.6,1466.9 1212.6,1465.4 1216.5,1463.9 1220.5,1462.4 1224.5,1460.9 1228.5,1459.4 1232.5,1457.8 1236.5,1456.3 1240.5,1454.8 1244.5,1453.3 1248.5,1451.7 1252.5,1450.2 1256.4,1448.6 1260.4,1447.1 1264.4,1445.5 1268.4,1443.9 1272.4,1442.4 1276.4,1440.8 1280.4,1439.1 1284.4,1437.5 1288.4,1435.8 1292.3,1434.2 1296.3,1432.5 1300.3,1430.8 1304.3,1429 1308.3,1427.2"/>
<rect x="807.5" y="1310.9" width="523.4" height="308.1" fill="none" stroke="#000" stroke-width="3.0"/>
<line x1="768.5" y1="1313.2" x2="804.5" y2="1313.2" stroke="#000" stroke-width="6.0" stroke-linecap="round"/>
<text class="tk" text-anchor="end" transform="translate(755.3 1323.5) scale(1 1.08)">18</text>
<line x1="768.5" y1="1377.6" x2="804.5" y2="1377.6" stroke="#000" stroke-width="6.0" stroke-linecap="round"/>
<text class="tk" text-anchor="end" transform="translate(755.3 1387.9) scale(1 1.08)">16</text>
<line x1="768.5" y1="1441.9" x2="804.5" y2="1441.9" stroke="#000" stroke-width="6.0" stroke-linecap="round"/>
<text class="tk" text-anchor="end" transform="translate(755.3 1452.2) scale(1 1.08)">14</text>
<line x1="768.5" y1="1506.3" x2="804.5" y2="1506.3" stroke="#000" stroke-width="6.0" stroke-linecap="round"/>
<text class="tk" text-anchor="end" transform="translate(755.3 1516.6) scale(1 1.08)">12</text>
<line x1="768.5" y1="1570.6" x2="804.5" y2="1570.6" stroke="#000" stroke-width="6.0" stroke-linecap="round"/>
<text class="tk" text-anchor="end" transform="translate(755.3 1580.9) scale(1 1.08)">10</text>
<text class="tt" text-anchor="middle" transform="translate(1069.2 1280.5) scale(1 1.05)">Turkey</text>
<text class="lt" transform="translate(775.2 1288.2)">k</text>
<line x1="829.6" y1="1622" x2="829.6" y2="1656.7" stroke="#000" stroke-width="6.0" stroke-linecap="round"/>
<text class="tk" text-anchor="middle" transform="translate(829.6 1691) scale(1 1.08)">1970</text>
<line x1="1021.1" y1="1622" x2="1021.1" y2="1656.7" stroke="#000" stroke-width="6.0" stroke-linecap="round"/>
<text class="tk" text-anchor="middle" transform="translate(1021.1 1691) scale(1 1.08)">1990</text>
<line x1="1308.3" y1="1622" x2="1308.3" y2="1656.7" stroke="#000" stroke-width="6.0" stroke-linecap="round"/>
<text class="tk" text-anchor="middle" transform="translate(1308.3 1691) scale(1 1.08)">2020</text>
</g>
<g id="panel-l">
<polygon fill="#f6f8e8" points="1484.6,1547.6 1488.6,1547.2 1492.6,1546.7 1496.6,1546.2 1500.6,1545.7 1504.5,1545.1 1508.5,1544.4 1512.5,1543.8 1516.5,1543.1 1520.5,1542.3 1524.5,1541.6 1528.5,1540.8 1532.5,1539.9 1536.4,1539.1 1540.4,1538.2 1544.4,1537.2 1548.4,1536.3 1552.4,1535.3 1556.4,1534.3 1560.4,1533.2 1564.4,1532.1 1568.4,1531 1572.3,1529.9 1576.3,1528.7 1580.3,1527.5 1584.3,1526.3 1588.3,1525.1 1592.3,1523.8 1596.3,1522.5 1600.3,1521.2 1604.2,1519.9 1608.2,1518.5 1612.2,1517.1 1616.2,1515.7 1620.2,1514.3 1624.2,1512.8 1628.2,1511.4 1632.2,1509.9 1636.2,1508.4 1640.1,1506.8 1644.1,1505.3 1648.1,1503.8 1652.1,1502.2 1656.1,1500.6 1660.1,1499 1664.1,1497.3 1668.1,1495.7 1672.1,1494 1676,1492.3 1680,1490.5 1684,1488.7 1688,1486.9 1692,1485 1696,1483.1 1700,1481.1 1704,1479.1 1707.9,1477.1 1711.9,1475 1715.9,1472.8 1719.9,1470.6 1723.9,1468.4 1727.9,1466.1 1731.9,1463.7 1735.9,1461.3 1739.9,1458.9 1743.8,1456.5 1747.8,1454.1 1751.8,1451.7 1755.8,1449.3 1759.8,1447 1763.8,1444.8 1767.8,1442.7 1771.8,1440.6 1775.7,1438.5 1779.7,1436.5 1783.7,1434.6 1787.7,1432.7 1791.7,1430.9 1795.7,1429 1799.7,1427.2 1803.7,1425.4 1807.7,1423.7 1811.6,1421.9 1815.6,1420.1 1819.6,1418.3 1823.6,1416.5 1827.6,1414.6 1831.6,1412.7 1835.6,1410.7 1839.6,1408.7 1843.5,1406.6 1847.5,1404.4 1851.5,1402.1 1855.5,1399.8 1859.5,1397.4 1863.5,1395 1867.5,1392.6 1871.5,1390.1 1875.5,1387.6 1879.4,1385 1883.4,1382.5 1887.4,1379.9 1891.4,1377.4 1895.4,1374.8 1899.4,1372.2 1903.4,1369.6 1907.4,1367 1911.4,1364.3 1915.3,1361.5 1919.3,1358.8 1923.3,1355.9 1927.3,1353 1931.3,1350.1 1935.3,1347 1939.3,1343.9 1943.3,1340.7 1947.2,1337.5 1951.2,1334.1 1955.2,1330.6 1959.2,1327.1 1963.2,1323.4 1963.2,1453.4 1959.2,1455.3 1955.2,1457.1 1951.2,1458.8 1947.2,1460.5 1943.3,1462.2 1939.3,1463.9 1935.3,1465.5 1931.3,1467 1927.3,1468.6 1923.3,1470.1 1919.3,1471.6 1915.3,1473.1 1911.4,1474.6 1907.4,1476 1903.4,1477.5 1899.4,1478.9 1895.4,1480.4 1891.4,1481.8 1887.4,1483.3 1883.4,1484.7 1879.4,1486.2 1875.5,1487.6 1871.5,1489.1 1867.5,1490.6 1863.5,1492.1 1859.5,1493.6 1855.5,1495 1851.5,1496.5 1847.5,1497.9 1843.5,1499.3 1839.6,1500.8 1835.6,1502.2 1831.6,1503.5 1827.6,1504.9 1823.6,1506.2 1819.6,1507.6 1815.6,1508.9 1811.6,1510.2 1807.7,1511.5 1803.7,1512.7 1799.7,1514 1795.7,1515.3 1791.7,1516.5 1787.7,1517.8 1783.7,1519.1 1779.7,1520.4 1775.7,1521.7 1771.8,1523 1767.8,1524.4 1763.8,1525.8 1759.8,1527.2 1755.8,1528.7 1751.8,1530.3 1747.8,1531.8 1743.8,1533.4 1739.9,1535 1735.9,1536.7 1731.9,1538.3 1727.9,1540 1723.9,1541.6 1719.9,1543.2 1715.9,1544.9 1711.9,1546.4 1707.9,1548 1704,1549.5 1700,1551 1696,1552.4 1692,1553.8 1688,1555.2 1684,1556.5 1680,1557.8 1676,1559.1 1672.1,1560.3 1668.1,1561.6 1664.1,1562.8 1660.1,1564 1656.1,1565.2 1652.1,1566.5 1648.1,1567.7 1644.1,1568.9 1640.1,1570.2 1636.2,1571.4 1632.2,1572.6 1628.2,1573.9 1624.2,1575.1 1620.2,1576.3 1616.2,1577.5 1612.2,1578.7 1608.2,1579.9 1604.2,1581.1 1600.3,1582.2 1596.3,1583.3 1592.3,1584.4 1588.3,1585.5 1584.3,1586.5 1580.3,1587.5 1576.3,1588.4 1572.3,1589.4 1568.4,1590.3 1564.4,1591.2 1560.4,1592.1 1556.4,1592.9 1552.4,1593.7 1548.4,1594.5 1544.4,1595.3 1540.4,1596.1 1536.4,1596.9 1532.5,1597.7 1528.5,1598.4 1524.5,1599.1 1520.5,1599.9 1516.5,1600.6 1512.5,1601.3 1508.5,1602 1504.5,1602.7 1500.6,1603.5 1496.6,1604.2 1492.6,1604.9 1488.6,1605.6 1484.6,1606.3"/>
<polyline fill="none" stroke="#b9a650" stroke-width="7.9" stroke-linejoin="round" points="1484.6,1579.3 1488.6,1578.8 1492.6,1578.3 1496.6,1577.7 1500.6,1577.2 1504.5,1576.6 1508.5,1575.9 1512.5,1575.3 1516.5,1574.6 1520.5,1573.9 1524.5,1573.1 1528.5,1572.3 1532.5,1571.6 1536.4,1570.7 1540.4,1569.9 1544.4,1569 1548.4,1568.1 1552.4,1567.2 1556.4,1566.3 1560.4,1565.3 1564.4,1564.4 1568.4,1563.4 1572.3,1562.3 1576.3,1561.3 1580.3,1560.2 1584.3,1559.1 1588.3,1558 1592.3,1556.9 1596.3,1555.7 1600.3,1554.5 1604.2,1553.3 1608.2,1552.1 1612.2,1550.9 1616.2,1549.6 1620.2,1548.3 1624.2,1547 1628.2,1545.7 1632.2,1544.4 1636.2,1543 1640.1,1541.6 1644.1,1540.2 1648.1,1538.7 1652.1,1537.3 1656.1,1535.8 1660.1,1534.3 1664.1,1532.8 1668.1,1531.2 1672.1,1529.7 1676,1528.1 1680,1526.5 1684,1524.8 1688,1523.2 1692,1521.5 1696,1519.8 1700,1518.1 1704,1516.4 1707.9,1514.7 1711.9,1512.9 1715.9,1511.1 1719.9,1509.3 1723.9,1507.5 1727.9,1505.7 1731.9,1503.8 1735.9,1502 1739.9,1500.1 1743.8,1498.3 1747.8,1496.5 1751.8,1494.7 1755.8,1493 1759.8,1491.4 1763.8,1489.8 1767.8,1488.2 1771.8,1486.7 1775.7,1485.3 1779.7,1483.9 1783.7,1482.5 1787.7,1481.1 1791.7,1479.7 1795.7,1478.2 1799.7,1476.8 1803.7,1475.4 1807.7,1473.9 1811.6,1472.4 1815.6,1470.8 1819.6,1469.3 1823.6,1467.7 1827.6,1466 1831.6,1464.4 1835.6,1462.7 1839.6,1460.9 1843.5,1459.2 1847.5,1457.4 1851.5,1455.6 1855.5,1453.7 1859.5,1451.9 1863.5,1450 1867.5,1448.1 1871.5,1446.2 1875.5,1444.3 1879.4,1442.4 1883.4,1440.5 1887.4,1438.6 1891.4,1436.7 1895.4,1434.8 1899.4,1432.9 1903.4,1430.9 1907.4,1428.9 1911.4,1426.9 1915.3,1424.9 1919.3,1422.8 1923.3,1420.6 1927.3,1418.4 1931.3,1416.1 1935.3,1413.7 1939.3,1411.3 1943.3,1408.8 1947.2,1406.2 1951.2,1403.5 1955.2,1400.7 1959.2,1397.8 1963.2,1394.7"/>
<rect x="1462.5" y="1310.9" width="523.3" height="308.1" fill="none" stroke="#000" stroke-width="3.0"/>
<line x1="1423.5" y1="1318.6" x2="1459.5" y2="1318.6" stroke="#000" stroke-width="6.0" stroke-linecap="round"/>
<text class="tk" text-anchor="end" transform="translate(1410.3 1328.9) scale(1 1.08)">350</text>
<line x1="1423.5" y1="1381.5" x2="1459.5" y2="1381.5" stroke="#000" stroke-width="6.0" stroke-linecap="round"/>
<text class="tk" text-anchor="end" transform="translate(1410.3 1391.8) scale(1 1.08)">300</text>
<line x1="1423.5" y1="1444.5" x2="1459.5" y2="1444.5" stroke="#000" stroke-width="6.0" stroke-linecap="round"/>
<text class="tk" text-anchor="end" transform="translate(1410.3 1454.8) scale(1 1.08)">250</text>
<line x1="1423.5" y1="1507.4" x2="1459.5" y2="1507.4" stroke="#000" stroke-width="6.0" stroke-linecap="round"/>
<text class="tk" text-anchor="end" transform="translate(1410.3 1517.7) scale(1 1.08)">200</text>
<line x1="1423.5" y1="1570.3" x2="1459.5" y2="1570.3" stroke="#000" stroke-width="6.0" stroke-linecap="round"/>
<text class="tk" text-anchor="end" transform="translate(1410.3 1580.6) scale(1 1.08)">150</text>
<text class="tt" text-anchor="middle" transform="translate(1724.2 1280.5) scale(1 1.05)">United States</text>
<text class="lt" transform="translate(1430.2 1288.2)">l</text>
<line x1="1484.6" y1="1622" x2="1484.6" y2="1656.7" stroke="#000" stroke-width="6.0" stroke-linecap="round"/>
<text class="tk" text-anchor="middle" transform="translate(1484.6 1691) scale(1 1.08)">1970</text>
<line x1="1676" y1="1622" x2="1676" y2="1656.7" stroke="#000" stroke-width="6.0" stroke-linecap="round"/>
<text class="tk" text-anchor="middle" transform="translate(1676 1691) scale(1 1.08)">1990</text>
<line x1="1963.2" y1="1622" x2="1963.2" y2="1656.7" stroke="#000" stroke-width="6.0" stroke-linecap="round"/>
<text class="tk" text-anchor="middle" transform="translate(1963.2 1691) scale(1 1.08)">2020</text>
</g>
<text class="ax" text-anchor="middle" transform="translate(1077 1738.5) scale(1 1.05)">Year</text>
<text class="ax" text-anchor="middle" transform="translate(30.4 840) rotate(-90) scale(1 1.05)">Farm size (ha)</text>
<line x1="586.7" y1="1883.5" x2="658.1" y2="1883.5" stroke="#b09638" stroke-width="9"/>
<text class="lg" transform="translate(696.9 1894.4) scale(1 1.02)">Median farm size</text>
<rect x="1076" y="1842.2" width="82" height="82" fill="#f6f8e8"/>
<text class="lg" transform="translate(1191.4 1894.4) scale(1 1.02)">SSP2(95% confidence intervals)</text>
</svg></body></html>
